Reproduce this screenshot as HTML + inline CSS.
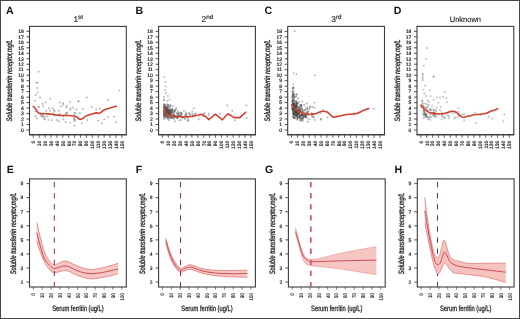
<!DOCTYPE html>
<html><head><meta charset="utf-8"><style>
html,body{margin:0;padding:0;background:#fff;}
svg{display:block;will-change:transform;text-rendering:geometricPrecision;}
</style></head><body>
<svg width="520" height="319" viewBox="0 0 520 319">
<rect x="0.5" y="0.5" width="519" height="318" fill="#fff" stroke="#484848" stroke-width="1"/>
<text x="5.9" y="13.7" font-family="Liberation Sans, sans-serif" font-weight="bold" font-size="10.6" fill="#111">A</text>
<text x="6.8" y="173.3" font-family="Liberation Sans, sans-serif" font-weight="bold" font-size="10.6" fill="#111">E</text>
<text x="78.2" y="21.7" font-family="Liberation Sans, sans-serif" font-size="8.4" fill="#222" stroke="#222" stroke-width="0.15" text-anchor="middle">1<tspan font-size="6.2" dy="-2.9">st</tspan></text>
<rect x="29.5" y="26.4" width="96.80" height="108.20" fill="none" stroke="#3c3c3c" stroke-width="1.1"/>
<line x1="29.0" y1="134.9" x2="126.8" y2="134.9" stroke="#3c3c3c" stroke-width="1.0"/>
<line x1="26.5" y1="130.00" x2="29.5" y2="130.00" stroke="#3c3c3c" stroke-width="0.9"/>
<text x="23.80" y="131.75" font-family="Liberation Sans, sans-serif" font-size="5.0" fill="#222" stroke="#222" stroke-width="0.2" text-anchor="end">0</text>
<line x1="26.5" y1="124.52" x2="29.5" y2="124.52" stroke="#3c3c3c" stroke-width="0.9"/>
<text x="23.80" y="126.27" font-family="Liberation Sans, sans-serif" font-size="5.0" fill="#222" stroke="#222" stroke-width="0.2" text-anchor="end">1</text>
<line x1="26.5" y1="119.04" x2="29.5" y2="119.04" stroke="#3c3c3c" stroke-width="0.9"/>
<text x="23.80" y="120.79" font-family="Liberation Sans, sans-serif" font-size="5.0" fill="#222" stroke="#222" stroke-width="0.2" text-anchor="end">2</text>
<line x1="26.5" y1="113.56" x2="29.5" y2="113.56" stroke="#3c3c3c" stroke-width="0.9"/>
<text x="23.80" y="115.31" font-family="Liberation Sans, sans-serif" font-size="5.0" fill="#222" stroke="#222" stroke-width="0.2" text-anchor="end">3</text>
<line x1="26.5" y1="108.08" x2="29.5" y2="108.08" stroke="#3c3c3c" stroke-width="0.9"/>
<text x="23.80" y="109.83" font-family="Liberation Sans, sans-serif" font-size="5.0" fill="#222" stroke="#222" stroke-width="0.2" text-anchor="end">4</text>
<line x1="26.5" y1="102.60" x2="29.5" y2="102.60" stroke="#3c3c3c" stroke-width="0.9"/>
<text x="23.80" y="104.35" font-family="Liberation Sans, sans-serif" font-size="5.0" fill="#222" stroke="#222" stroke-width="0.2" text-anchor="end">5</text>
<line x1="26.5" y1="97.12" x2="29.5" y2="97.12" stroke="#3c3c3c" stroke-width="0.9"/>
<text x="23.80" y="98.87" font-family="Liberation Sans, sans-serif" font-size="5.0" fill="#222" stroke="#222" stroke-width="0.2" text-anchor="end">6</text>
<line x1="26.5" y1="91.64" x2="29.5" y2="91.64" stroke="#3c3c3c" stroke-width="0.9"/>
<text x="23.80" y="93.39" font-family="Liberation Sans, sans-serif" font-size="5.0" fill="#222" stroke="#222" stroke-width="0.2" text-anchor="end">7</text>
<line x1="26.5" y1="86.16" x2="29.5" y2="86.16" stroke="#3c3c3c" stroke-width="0.9"/>
<text x="23.80" y="87.91" font-family="Liberation Sans, sans-serif" font-size="5.0" fill="#222" stroke="#222" stroke-width="0.2" text-anchor="end">8</text>
<line x1="26.5" y1="80.68" x2="29.5" y2="80.68" stroke="#3c3c3c" stroke-width="0.9"/>
<text x="23.80" y="82.43" font-family="Liberation Sans, sans-serif" font-size="5.0" fill="#222" stroke="#222" stroke-width="0.2" text-anchor="end">9</text>
<line x1="26.5" y1="75.20" x2="29.5" y2="75.20" stroke="#3c3c3c" stroke-width="0.9"/>
<text x="23.80" y="76.95" font-family="Liberation Sans, sans-serif" font-size="5.0" fill="#222" stroke="#222" stroke-width="0.2" text-anchor="end">10</text>
<line x1="26.5" y1="69.72" x2="29.5" y2="69.72" stroke="#3c3c3c" stroke-width="0.9"/>
<text x="23.80" y="71.47" font-family="Liberation Sans, sans-serif" font-size="5.0" fill="#222" stroke="#222" stroke-width="0.2" text-anchor="end">11</text>
<line x1="26.5" y1="64.24" x2="29.5" y2="64.24" stroke="#3c3c3c" stroke-width="0.9"/>
<text x="23.80" y="65.99" font-family="Liberation Sans, sans-serif" font-size="5.0" fill="#222" stroke="#222" stroke-width="0.2" text-anchor="end">12</text>
<line x1="26.5" y1="58.76" x2="29.5" y2="58.76" stroke="#3c3c3c" stroke-width="0.9"/>
<text x="23.80" y="60.51" font-family="Liberation Sans, sans-serif" font-size="5.0" fill="#222" stroke="#222" stroke-width="0.2" text-anchor="end">13</text>
<line x1="26.5" y1="53.28" x2="29.5" y2="53.28" stroke="#3c3c3c" stroke-width="0.9"/>
<text x="23.80" y="55.03" font-family="Liberation Sans, sans-serif" font-size="5.0" fill="#222" stroke="#222" stroke-width="0.2" text-anchor="end">14</text>
<line x1="26.5" y1="47.80" x2="29.5" y2="47.80" stroke="#3c3c3c" stroke-width="0.9"/>
<text x="23.80" y="49.55" font-family="Liberation Sans, sans-serif" font-size="5.0" fill="#222" stroke="#222" stroke-width="0.2" text-anchor="end">15</text>
<line x1="26.5" y1="42.32" x2="29.5" y2="42.32" stroke="#3c3c3c" stroke-width="0.9"/>
<text x="23.80" y="44.07" font-family="Liberation Sans, sans-serif" font-size="5.0" fill="#222" stroke="#222" stroke-width="0.2" text-anchor="end">16</text>
<line x1="26.5" y1="36.84" x2="29.5" y2="36.84" stroke="#3c3c3c" stroke-width="0.9"/>
<text x="23.80" y="38.59" font-family="Liberation Sans, sans-serif" font-size="5.0" fill="#222" stroke="#222" stroke-width="0.2" text-anchor="end">17</text>
<line x1="26.5" y1="31.36" x2="29.5" y2="31.36" stroke="#3c3c3c" stroke-width="0.9"/>
<text x="23.80" y="33.11" font-family="Liberation Sans, sans-serif" font-size="5.0" fill="#222" stroke="#222" stroke-width="0.2" text-anchor="end">18</text>
<line x1="33.30" y1="134.6" x2="33.30" y2="137.79999999999998" stroke="#3c3c3c" stroke-width="0.8"/>
<text transform="translate(35.10,140.6) rotate(-90)" font-family="Liberation Sans, sans-serif" font-size="5.0" fill="#222" stroke="#222" stroke-width="0.18" text-anchor="end">0</text>
<line x1="39.20" y1="134.6" x2="39.20" y2="137.79999999999998" stroke="#3c3c3c" stroke-width="0.8"/>
<text transform="translate(41.00,140.6) rotate(-90)" font-family="Liberation Sans, sans-serif" font-size="5.0" fill="#222" stroke="#222" stroke-width="0.18" text-anchor="end">10</text>
<line x1="45.10" y1="134.6" x2="45.10" y2="137.79999999999998" stroke="#3c3c3c" stroke-width="0.8"/>
<text transform="translate(46.90,140.6) rotate(-90)" font-family="Liberation Sans, sans-serif" font-size="5.0" fill="#222" stroke="#222" stroke-width="0.18" text-anchor="end">20</text>
<line x1="51.00" y1="134.6" x2="51.00" y2="137.79999999999998" stroke="#3c3c3c" stroke-width="0.8"/>
<text transform="translate(52.80,140.6) rotate(-90)" font-family="Liberation Sans, sans-serif" font-size="5.0" fill="#222" stroke="#222" stroke-width="0.18" text-anchor="end">30</text>
<line x1="56.90" y1="134.6" x2="56.90" y2="137.79999999999998" stroke="#3c3c3c" stroke-width="0.8"/>
<text transform="translate(58.70,140.6) rotate(-90)" font-family="Liberation Sans, sans-serif" font-size="5.0" fill="#222" stroke="#222" stroke-width="0.18" text-anchor="end">40</text>
<line x1="62.80" y1="134.6" x2="62.80" y2="137.79999999999998" stroke="#3c3c3c" stroke-width="0.8"/>
<text transform="translate(64.60,140.6) rotate(-90)" font-family="Liberation Sans, sans-serif" font-size="5.0" fill="#222" stroke="#222" stroke-width="0.18" text-anchor="end">50</text>
<line x1="68.70" y1="134.6" x2="68.70" y2="137.79999999999998" stroke="#3c3c3c" stroke-width="0.8"/>
<text transform="translate(70.50,140.6) rotate(-90)" font-family="Liberation Sans, sans-serif" font-size="5.0" fill="#222" stroke="#222" stroke-width="0.18" text-anchor="end">60</text>
<line x1="74.60" y1="134.6" x2="74.60" y2="137.79999999999998" stroke="#3c3c3c" stroke-width="0.8"/>
<text transform="translate(76.40,140.6) rotate(-90)" font-family="Liberation Sans, sans-serif" font-size="5.0" fill="#222" stroke="#222" stroke-width="0.18" text-anchor="end">70</text>
<line x1="80.50" y1="134.6" x2="80.50" y2="137.79999999999998" stroke="#3c3c3c" stroke-width="0.8"/>
<text transform="translate(82.30,140.6) rotate(-90)" font-family="Liberation Sans, sans-serif" font-size="5.0" fill="#222" stroke="#222" stroke-width="0.18" text-anchor="end">80</text>
<line x1="86.40" y1="134.6" x2="86.40" y2="137.79999999999998" stroke="#3c3c3c" stroke-width="0.8"/>
<text transform="translate(88.20,140.6) rotate(-90)" font-family="Liberation Sans, sans-serif" font-size="5.0" fill="#222" stroke="#222" stroke-width="0.18" text-anchor="end">90</text>
<line x1="92.30" y1="134.6" x2="92.30" y2="137.79999999999998" stroke="#3c3c3c" stroke-width="0.8"/>
<text transform="translate(94.10,140.6) rotate(-90)" font-family="Liberation Sans, sans-serif" font-size="5.0" fill="#222" stroke="#222" stroke-width="0.18" text-anchor="end">100</text>
<line x1="98.20" y1="134.6" x2="98.20" y2="137.79999999999998" stroke="#3c3c3c" stroke-width="0.8"/>
<text transform="translate(100.00,140.6) rotate(-90)" font-family="Liberation Sans, sans-serif" font-size="5.0" fill="#222" stroke="#222" stroke-width="0.18" text-anchor="end">110</text>
<line x1="104.10" y1="134.6" x2="104.10" y2="137.79999999999998" stroke="#3c3c3c" stroke-width="0.8"/>
<text transform="translate(105.90,140.6) rotate(-90)" font-family="Liberation Sans, sans-serif" font-size="5.0" fill="#222" stroke="#222" stroke-width="0.18" text-anchor="end">120</text>
<line x1="110.00" y1="134.6" x2="110.00" y2="137.79999999999998" stroke="#3c3c3c" stroke-width="0.8"/>
<text transform="translate(111.80,140.6) rotate(-90)" font-family="Liberation Sans, sans-serif" font-size="5.0" fill="#222" stroke="#222" stroke-width="0.18" text-anchor="end">130</text>
<line x1="115.90" y1="134.6" x2="115.90" y2="137.79999999999998" stroke="#3c3c3c" stroke-width="0.8"/>
<text transform="translate(117.70,140.6) rotate(-90)" font-family="Liberation Sans, sans-serif" font-size="5.0" fill="#222" stroke="#222" stroke-width="0.18" text-anchor="end">140</text>
<line x1="121.80" y1="134.6" x2="121.80" y2="137.79999999999998" stroke="#3c3c3c" stroke-width="0.8"/>
<text transform="translate(123.60,140.6) rotate(-90)" font-family="Liberation Sans, sans-serif" font-size="5.0" fill="#222" stroke="#222" stroke-width="0.18" text-anchor="end">150</text>
<text transform="translate(12.00,80.5) rotate(-90)" font-family="Liberation Sans, sans-serif" font-size="7.9" font-style="italic" fill="#222" stroke="#222" stroke-width="0.3" text-anchor="middle" textLength="82" lengthAdjust="spacingAndGlyphs">Soluble transferrin receptor,mg/L</text>
<rect x="29.5" y="178.9" width="96.80" height="108.10" fill="none" stroke="#3c3c3c" stroke-width="1.1"/>
<line x1="26.5" y1="282.09" x2="29.5" y2="282.09" stroke="#3c3c3c" stroke-width="0.9"/>
<text x="23.40" y="283.89" font-family="Liberation Sans, sans-serif" font-size="5.0" fill="#222" stroke="#222" stroke-width="0.18" text-anchor="end">2</text>
<line x1="26.5" y1="268.02" x2="29.5" y2="268.02" stroke="#3c3c3c" stroke-width="0.9"/>
<text x="23.40" y="269.82" font-family="Liberation Sans, sans-serif" font-size="5.0" fill="#222" stroke="#222" stroke-width="0.18" text-anchor="end">3</text>
<line x1="26.5" y1="253.95" x2="29.5" y2="253.95" stroke="#3c3c3c" stroke-width="0.9"/>
<text x="23.40" y="255.75" font-family="Liberation Sans, sans-serif" font-size="5.0" fill="#222" stroke="#222" stroke-width="0.18" text-anchor="end">4</text>
<line x1="26.5" y1="239.88" x2="29.5" y2="239.88" stroke="#3c3c3c" stroke-width="0.9"/>
<text x="23.40" y="241.68" font-family="Liberation Sans, sans-serif" font-size="5.0" fill="#222" stroke="#222" stroke-width="0.18" text-anchor="end">5</text>
<line x1="26.5" y1="225.81" x2="29.5" y2="225.81" stroke="#3c3c3c" stroke-width="0.9"/>
<text x="23.40" y="227.61" font-family="Liberation Sans, sans-serif" font-size="5.0" fill="#222" stroke="#222" stroke-width="0.18" text-anchor="end">6</text>
<line x1="26.5" y1="211.74" x2="29.5" y2="211.74" stroke="#3c3c3c" stroke-width="0.9"/>
<text x="23.40" y="213.54" font-family="Liberation Sans, sans-serif" font-size="5.0" fill="#222" stroke="#222" stroke-width="0.18" text-anchor="end">7</text>
<line x1="26.5" y1="197.67" x2="29.5" y2="197.67" stroke="#3c3c3c" stroke-width="0.9"/>
<text x="23.40" y="199.47" font-family="Liberation Sans, sans-serif" font-size="5.0" fill="#222" stroke="#222" stroke-width="0.18" text-anchor="end">8</text>
<line x1="26.5" y1="183.60" x2="29.5" y2="183.60" stroke="#3c3c3c" stroke-width="0.9"/>
<text x="23.40" y="185.40" font-family="Liberation Sans, sans-serif" font-size="5.0" fill="#222" stroke="#222" stroke-width="0.18" text-anchor="end">9</text>
<line x1="33.40" y1="287.0" x2="33.40" y2="289.6" stroke="#3c3c3c" stroke-width="0.7"/>
<text transform="translate(35.30,293.2) rotate(-90)" font-family="Liberation Sans, sans-serif" font-size="5.3" fill="#222" stroke="#222" stroke-width="0.15" text-anchor="end" textLength="2.4" lengthAdjust="spacingAndGlyphs">0</text>
<line x1="42.24" y1="287.0" x2="42.24" y2="289.6" stroke="#3c3c3c" stroke-width="0.7"/>
<text transform="translate(44.14,293.2) rotate(-90)" font-family="Liberation Sans, sans-serif" font-size="5.3" fill="#222" stroke="#222" stroke-width="0.15" text-anchor="end" textLength="4.8" lengthAdjust="spacingAndGlyphs">10</text>
<line x1="51.08" y1="287.0" x2="51.08" y2="289.6" stroke="#3c3c3c" stroke-width="0.7"/>
<text transform="translate(52.98,293.2) rotate(-90)" font-family="Liberation Sans, sans-serif" font-size="5.3" fill="#222" stroke="#222" stroke-width="0.15" text-anchor="end" textLength="4.8" lengthAdjust="spacingAndGlyphs">20</text>
<line x1="59.92" y1="287.0" x2="59.92" y2="289.6" stroke="#3c3c3c" stroke-width="0.7"/>
<text transform="translate(61.82,293.2) rotate(-90)" font-family="Liberation Sans, sans-serif" font-size="5.3" fill="#222" stroke="#222" stroke-width="0.15" text-anchor="end" textLength="4.8" lengthAdjust="spacingAndGlyphs">30</text>
<line x1="68.76" y1="287.0" x2="68.76" y2="289.6" stroke="#3c3c3c" stroke-width="0.7"/>
<text transform="translate(70.66,293.2) rotate(-90)" font-family="Liberation Sans, sans-serif" font-size="5.3" fill="#222" stroke="#222" stroke-width="0.15" text-anchor="end" textLength="4.8" lengthAdjust="spacingAndGlyphs">40</text>
<line x1="77.60" y1="287.0" x2="77.60" y2="289.6" stroke="#3c3c3c" stroke-width="0.7"/>
<text transform="translate(79.50,293.2) rotate(-90)" font-family="Liberation Sans, sans-serif" font-size="5.3" fill="#222" stroke="#222" stroke-width="0.15" text-anchor="end" textLength="4.8" lengthAdjust="spacingAndGlyphs">50</text>
<line x1="86.44" y1="287.0" x2="86.44" y2="289.6" stroke="#3c3c3c" stroke-width="0.7"/>
<text transform="translate(88.34,293.2) rotate(-90)" font-family="Liberation Sans, sans-serif" font-size="5.3" fill="#222" stroke="#222" stroke-width="0.15" text-anchor="end" textLength="4.8" lengthAdjust="spacingAndGlyphs">60</text>
<line x1="95.28" y1="287.0" x2="95.28" y2="289.6" stroke="#3c3c3c" stroke-width="0.7"/>
<text transform="translate(97.18,293.2) rotate(-90)" font-family="Liberation Sans, sans-serif" font-size="5.3" fill="#222" stroke="#222" stroke-width="0.15" text-anchor="end" textLength="4.8" lengthAdjust="spacingAndGlyphs">70</text>
<line x1="104.12" y1="287.0" x2="104.12" y2="289.6" stroke="#3c3c3c" stroke-width="0.7"/>
<text transform="translate(106.02,293.2) rotate(-90)" font-family="Liberation Sans, sans-serif" font-size="5.3" fill="#222" stroke="#222" stroke-width="0.15" text-anchor="end" textLength="4.8" lengthAdjust="spacingAndGlyphs">80</text>
<line x1="112.96" y1="287.0" x2="112.96" y2="289.6" stroke="#3c3c3c" stroke-width="0.7"/>
<text transform="translate(114.86,293.2) rotate(-90)" font-family="Liberation Sans, sans-serif" font-size="5.3" fill="#222" stroke="#222" stroke-width="0.15" text-anchor="end" textLength="4.8" lengthAdjust="spacingAndGlyphs">90</text>
<line x1="121.80" y1="287.0" x2="121.80" y2="289.6" stroke="#3c3c3c" stroke-width="0.7"/>
<text transform="translate(123.70,293.2) rotate(-90)" font-family="Liberation Sans, sans-serif" font-size="5.3" fill="#222" stroke="#222" stroke-width="0.15" text-anchor="end" textLength="7.2" lengthAdjust="spacingAndGlyphs">100</text>
<text transform="translate(15.80,233.4) rotate(-90)" font-family="Liberation Sans, sans-serif" font-size="7.9" font-style="italic" fill="#222" stroke="#222" stroke-width="0.3" text-anchor="middle" textLength="81.5" lengthAdjust="spacingAndGlyphs">Soluble transferrin receptor,mg/L</text>
<text x="77.90" y="311.3" font-family="Liberation Sans, sans-serif" font-size="7.8" fill="#222" stroke="#222" stroke-width="0.28" text-anchor="middle" textLength="51.4" lengthAdjust="spacingAndGlyphs">Serum ferritin (ug/L)</text>
<text x="135.6" y="13.7" font-family="Liberation Sans, sans-serif" font-weight="bold" font-size="10.6" fill="#111">B</text>
<text x="135.8" y="173.3" font-family="Liberation Sans, sans-serif" font-weight="bold" font-size="10.6" fill="#111">F</text>
<text x="207.3" y="21.7" font-family="Liberation Sans, sans-serif" font-size="8.4" fill="#222" stroke="#222" stroke-width="0.15" text-anchor="middle">2<tspan font-size="6.2" dy="-2.9">nd</tspan></text>
<rect x="158.6" y="26.4" width="96.80" height="108.20" fill="none" stroke="#3c3c3c" stroke-width="1.1"/>
<line x1="158.1" y1="134.9" x2="255.89999999999998" y2="134.9" stroke="#3c3c3c" stroke-width="1.0"/>
<line x1="155.6" y1="130.00" x2="158.6" y2="130.00" stroke="#3c3c3c" stroke-width="0.9"/>
<text x="152.90" y="131.75" font-family="Liberation Sans, sans-serif" font-size="5.0" fill="#222" stroke="#222" stroke-width="0.2" text-anchor="end">0</text>
<line x1="155.6" y1="124.52" x2="158.6" y2="124.52" stroke="#3c3c3c" stroke-width="0.9"/>
<text x="152.90" y="126.27" font-family="Liberation Sans, sans-serif" font-size="5.0" fill="#222" stroke="#222" stroke-width="0.2" text-anchor="end">1</text>
<line x1="155.6" y1="119.04" x2="158.6" y2="119.04" stroke="#3c3c3c" stroke-width="0.9"/>
<text x="152.90" y="120.79" font-family="Liberation Sans, sans-serif" font-size="5.0" fill="#222" stroke="#222" stroke-width="0.2" text-anchor="end">2</text>
<line x1="155.6" y1="113.56" x2="158.6" y2="113.56" stroke="#3c3c3c" stroke-width="0.9"/>
<text x="152.90" y="115.31" font-family="Liberation Sans, sans-serif" font-size="5.0" fill="#222" stroke="#222" stroke-width="0.2" text-anchor="end">3</text>
<line x1="155.6" y1="108.08" x2="158.6" y2="108.08" stroke="#3c3c3c" stroke-width="0.9"/>
<text x="152.90" y="109.83" font-family="Liberation Sans, sans-serif" font-size="5.0" fill="#222" stroke="#222" stroke-width="0.2" text-anchor="end">4</text>
<line x1="155.6" y1="102.60" x2="158.6" y2="102.60" stroke="#3c3c3c" stroke-width="0.9"/>
<text x="152.90" y="104.35" font-family="Liberation Sans, sans-serif" font-size="5.0" fill="#222" stroke="#222" stroke-width="0.2" text-anchor="end">5</text>
<line x1="155.6" y1="97.12" x2="158.6" y2="97.12" stroke="#3c3c3c" stroke-width="0.9"/>
<text x="152.90" y="98.87" font-family="Liberation Sans, sans-serif" font-size="5.0" fill="#222" stroke="#222" stroke-width="0.2" text-anchor="end">6</text>
<line x1="155.6" y1="91.64" x2="158.6" y2="91.64" stroke="#3c3c3c" stroke-width="0.9"/>
<text x="152.90" y="93.39" font-family="Liberation Sans, sans-serif" font-size="5.0" fill="#222" stroke="#222" stroke-width="0.2" text-anchor="end">7</text>
<line x1="155.6" y1="86.16" x2="158.6" y2="86.16" stroke="#3c3c3c" stroke-width="0.9"/>
<text x="152.90" y="87.91" font-family="Liberation Sans, sans-serif" font-size="5.0" fill="#222" stroke="#222" stroke-width="0.2" text-anchor="end">8</text>
<line x1="155.6" y1="80.68" x2="158.6" y2="80.68" stroke="#3c3c3c" stroke-width="0.9"/>
<text x="152.90" y="82.43" font-family="Liberation Sans, sans-serif" font-size="5.0" fill="#222" stroke="#222" stroke-width="0.2" text-anchor="end">9</text>
<line x1="155.6" y1="75.20" x2="158.6" y2="75.20" stroke="#3c3c3c" stroke-width="0.9"/>
<text x="152.90" y="76.95" font-family="Liberation Sans, sans-serif" font-size="5.0" fill="#222" stroke="#222" stroke-width="0.2" text-anchor="end">10</text>
<line x1="155.6" y1="69.72" x2="158.6" y2="69.72" stroke="#3c3c3c" stroke-width="0.9"/>
<text x="152.90" y="71.47" font-family="Liberation Sans, sans-serif" font-size="5.0" fill="#222" stroke="#222" stroke-width="0.2" text-anchor="end">11</text>
<line x1="155.6" y1="64.24" x2="158.6" y2="64.24" stroke="#3c3c3c" stroke-width="0.9"/>
<text x="152.90" y="65.99" font-family="Liberation Sans, sans-serif" font-size="5.0" fill="#222" stroke="#222" stroke-width="0.2" text-anchor="end">12</text>
<line x1="155.6" y1="58.76" x2="158.6" y2="58.76" stroke="#3c3c3c" stroke-width="0.9"/>
<text x="152.90" y="60.51" font-family="Liberation Sans, sans-serif" font-size="5.0" fill="#222" stroke="#222" stroke-width="0.2" text-anchor="end">13</text>
<line x1="155.6" y1="53.28" x2="158.6" y2="53.28" stroke="#3c3c3c" stroke-width="0.9"/>
<text x="152.90" y="55.03" font-family="Liberation Sans, sans-serif" font-size="5.0" fill="#222" stroke="#222" stroke-width="0.2" text-anchor="end">14</text>
<line x1="155.6" y1="47.80" x2="158.6" y2="47.80" stroke="#3c3c3c" stroke-width="0.9"/>
<text x="152.90" y="49.55" font-family="Liberation Sans, sans-serif" font-size="5.0" fill="#222" stroke="#222" stroke-width="0.2" text-anchor="end">15</text>
<line x1="155.6" y1="42.32" x2="158.6" y2="42.32" stroke="#3c3c3c" stroke-width="0.9"/>
<text x="152.90" y="44.07" font-family="Liberation Sans, sans-serif" font-size="5.0" fill="#222" stroke="#222" stroke-width="0.2" text-anchor="end">16</text>
<line x1="155.6" y1="36.84" x2="158.6" y2="36.84" stroke="#3c3c3c" stroke-width="0.9"/>
<text x="152.90" y="38.59" font-family="Liberation Sans, sans-serif" font-size="5.0" fill="#222" stroke="#222" stroke-width="0.2" text-anchor="end">17</text>
<line x1="155.6" y1="31.36" x2="158.6" y2="31.36" stroke="#3c3c3c" stroke-width="0.9"/>
<text x="152.90" y="33.11" font-family="Liberation Sans, sans-serif" font-size="5.0" fill="#222" stroke="#222" stroke-width="0.2" text-anchor="end">18</text>
<line x1="162.40" y1="134.6" x2="162.40" y2="137.79999999999998" stroke="#3c3c3c" stroke-width="0.8"/>
<text transform="translate(164.20,140.6) rotate(-90)" font-family="Liberation Sans, sans-serif" font-size="5.0" fill="#222" stroke="#222" stroke-width="0.18" text-anchor="end">0</text>
<line x1="168.30" y1="134.6" x2="168.30" y2="137.79999999999998" stroke="#3c3c3c" stroke-width="0.8"/>
<text transform="translate(170.10,140.6) rotate(-90)" font-family="Liberation Sans, sans-serif" font-size="5.0" fill="#222" stroke="#222" stroke-width="0.18" text-anchor="end">10</text>
<line x1="174.20" y1="134.6" x2="174.20" y2="137.79999999999998" stroke="#3c3c3c" stroke-width="0.8"/>
<text transform="translate(176.00,140.6) rotate(-90)" font-family="Liberation Sans, sans-serif" font-size="5.0" fill="#222" stroke="#222" stroke-width="0.18" text-anchor="end">20</text>
<line x1="180.10" y1="134.6" x2="180.10" y2="137.79999999999998" stroke="#3c3c3c" stroke-width="0.8"/>
<text transform="translate(181.90,140.6) rotate(-90)" font-family="Liberation Sans, sans-serif" font-size="5.0" fill="#222" stroke="#222" stroke-width="0.18" text-anchor="end">30</text>
<line x1="186.00" y1="134.6" x2="186.00" y2="137.79999999999998" stroke="#3c3c3c" stroke-width="0.8"/>
<text transform="translate(187.80,140.6) rotate(-90)" font-family="Liberation Sans, sans-serif" font-size="5.0" fill="#222" stroke="#222" stroke-width="0.18" text-anchor="end">40</text>
<line x1="191.90" y1="134.6" x2="191.90" y2="137.79999999999998" stroke="#3c3c3c" stroke-width="0.8"/>
<text transform="translate(193.70,140.6) rotate(-90)" font-family="Liberation Sans, sans-serif" font-size="5.0" fill="#222" stroke="#222" stroke-width="0.18" text-anchor="end">50</text>
<line x1="197.80" y1="134.6" x2="197.80" y2="137.79999999999998" stroke="#3c3c3c" stroke-width="0.8"/>
<text transform="translate(199.60,140.6) rotate(-90)" font-family="Liberation Sans, sans-serif" font-size="5.0" fill="#222" stroke="#222" stroke-width="0.18" text-anchor="end">60</text>
<line x1="203.70" y1="134.6" x2="203.70" y2="137.79999999999998" stroke="#3c3c3c" stroke-width="0.8"/>
<text transform="translate(205.50,140.6) rotate(-90)" font-family="Liberation Sans, sans-serif" font-size="5.0" fill="#222" stroke="#222" stroke-width="0.18" text-anchor="end">70</text>
<line x1="209.60" y1="134.6" x2="209.60" y2="137.79999999999998" stroke="#3c3c3c" stroke-width="0.8"/>
<text transform="translate(211.40,140.6) rotate(-90)" font-family="Liberation Sans, sans-serif" font-size="5.0" fill="#222" stroke="#222" stroke-width="0.18" text-anchor="end">80</text>
<line x1="215.50" y1="134.6" x2="215.50" y2="137.79999999999998" stroke="#3c3c3c" stroke-width="0.8"/>
<text transform="translate(217.30,140.6) rotate(-90)" font-family="Liberation Sans, sans-serif" font-size="5.0" fill="#222" stroke="#222" stroke-width="0.18" text-anchor="end">90</text>
<line x1="221.40" y1="134.6" x2="221.40" y2="137.79999999999998" stroke="#3c3c3c" stroke-width="0.8"/>
<text transform="translate(223.20,140.6) rotate(-90)" font-family="Liberation Sans, sans-serif" font-size="5.0" fill="#222" stroke="#222" stroke-width="0.18" text-anchor="end">100</text>
<line x1="227.30" y1="134.6" x2="227.30" y2="137.79999999999998" stroke="#3c3c3c" stroke-width="0.8"/>
<text transform="translate(229.10,140.6) rotate(-90)" font-family="Liberation Sans, sans-serif" font-size="5.0" fill="#222" stroke="#222" stroke-width="0.18" text-anchor="end">110</text>
<line x1="233.20" y1="134.6" x2="233.20" y2="137.79999999999998" stroke="#3c3c3c" stroke-width="0.8"/>
<text transform="translate(235.00,140.6) rotate(-90)" font-family="Liberation Sans, sans-serif" font-size="5.0" fill="#222" stroke="#222" stroke-width="0.18" text-anchor="end">120</text>
<line x1="239.10" y1="134.6" x2="239.10" y2="137.79999999999998" stroke="#3c3c3c" stroke-width="0.8"/>
<text transform="translate(240.90,140.6) rotate(-90)" font-family="Liberation Sans, sans-serif" font-size="5.0" fill="#222" stroke="#222" stroke-width="0.18" text-anchor="end">130</text>
<line x1="245.00" y1="134.6" x2="245.00" y2="137.79999999999998" stroke="#3c3c3c" stroke-width="0.8"/>
<text transform="translate(246.80,140.6) rotate(-90)" font-family="Liberation Sans, sans-serif" font-size="5.0" fill="#222" stroke="#222" stroke-width="0.18" text-anchor="end">140</text>
<line x1="250.90" y1="134.6" x2="250.90" y2="137.79999999999998" stroke="#3c3c3c" stroke-width="0.8"/>
<text transform="translate(252.70,140.6) rotate(-90)" font-family="Liberation Sans, sans-serif" font-size="5.0" fill="#222" stroke="#222" stroke-width="0.18" text-anchor="end">150</text>
<text transform="translate(141.10,80.5) rotate(-90)" font-family="Liberation Sans, sans-serif" font-size="7.9" font-style="italic" fill="#222" stroke="#222" stroke-width="0.3" text-anchor="middle" textLength="82" lengthAdjust="spacingAndGlyphs">Soluble transferrin receptor,mg/L</text>
<rect x="158.6" y="178.9" width="96.80" height="108.10" fill="none" stroke="#3c3c3c" stroke-width="1.1"/>
<line x1="155.6" y1="282.09" x2="158.6" y2="282.09" stroke="#3c3c3c" stroke-width="0.9"/>
<text x="152.50" y="283.89" font-family="Liberation Sans, sans-serif" font-size="5.0" fill="#222" stroke="#222" stroke-width="0.18" text-anchor="end">2</text>
<line x1="155.6" y1="268.02" x2="158.6" y2="268.02" stroke="#3c3c3c" stroke-width="0.9"/>
<text x="152.50" y="269.82" font-family="Liberation Sans, sans-serif" font-size="5.0" fill="#222" stroke="#222" stroke-width="0.18" text-anchor="end">3</text>
<line x1="155.6" y1="253.95" x2="158.6" y2="253.95" stroke="#3c3c3c" stroke-width="0.9"/>
<text x="152.50" y="255.75" font-family="Liberation Sans, sans-serif" font-size="5.0" fill="#222" stroke="#222" stroke-width="0.18" text-anchor="end">4</text>
<line x1="155.6" y1="239.88" x2="158.6" y2="239.88" stroke="#3c3c3c" stroke-width="0.9"/>
<text x="152.50" y="241.68" font-family="Liberation Sans, sans-serif" font-size="5.0" fill="#222" stroke="#222" stroke-width="0.18" text-anchor="end">5</text>
<line x1="155.6" y1="225.81" x2="158.6" y2="225.81" stroke="#3c3c3c" stroke-width="0.9"/>
<text x="152.50" y="227.61" font-family="Liberation Sans, sans-serif" font-size="5.0" fill="#222" stroke="#222" stroke-width="0.18" text-anchor="end">6</text>
<line x1="155.6" y1="211.74" x2="158.6" y2="211.74" stroke="#3c3c3c" stroke-width="0.9"/>
<text x="152.50" y="213.54" font-family="Liberation Sans, sans-serif" font-size="5.0" fill="#222" stroke="#222" stroke-width="0.18" text-anchor="end">7</text>
<line x1="155.6" y1="197.67" x2="158.6" y2="197.67" stroke="#3c3c3c" stroke-width="0.9"/>
<text x="152.50" y="199.47" font-family="Liberation Sans, sans-serif" font-size="5.0" fill="#222" stroke="#222" stroke-width="0.18" text-anchor="end">8</text>
<line x1="155.6" y1="183.60" x2="158.6" y2="183.60" stroke="#3c3c3c" stroke-width="0.9"/>
<text x="152.50" y="185.40" font-family="Liberation Sans, sans-serif" font-size="5.0" fill="#222" stroke="#222" stroke-width="0.18" text-anchor="end">9</text>
<line x1="162.50" y1="287.0" x2="162.50" y2="289.6" stroke="#3c3c3c" stroke-width="0.7"/>
<text transform="translate(164.40,293.2) rotate(-90)" font-family="Liberation Sans, sans-serif" font-size="5.3" fill="#222" stroke="#222" stroke-width="0.15" text-anchor="end" textLength="2.4" lengthAdjust="spacingAndGlyphs">0</text>
<line x1="171.34" y1="287.0" x2="171.34" y2="289.6" stroke="#3c3c3c" stroke-width="0.7"/>
<text transform="translate(173.24,293.2) rotate(-90)" font-family="Liberation Sans, sans-serif" font-size="5.3" fill="#222" stroke="#222" stroke-width="0.15" text-anchor="end" textLength="4.8" lengthAdjust="spacingAndGlyphs">10</text>
<line x1="180.18" y1="287.0" x2="180.18" y2="289.6" stroke="#3c3c3c" stroke-width="0.7"/>
<text transform="translate(182.08,293.2) rotate(-90)" font-family="Liberation Sans, sans-serif" font-size="5.3" fill="#222" stroke="#222" stroke-width="0.15" text-anchor="end" textLength="4.8" lengthAdjust="spacingAndGlyphs">20</text>
<line x1="189.02" y1="287.0" x2="189.02" y2="289.6" stroke="#3c3c3c" stroke-width="0.7"/>
<text transform="translate(190.92,293.2) rotate(-90)" font-family="Liberation Sans, sans-serif" font-size="5.3" fill="#222" stroke="#222" stroke-width="0.15" text-anchor="end" textLength="4.8" lengthAdjust="spacingAndGlyphs">30</text>
<line x1="197.86" y1="287.0" x2="197.86" y2="289.6" stroke="#3c3c3c" stroke-width="0.7"/>
<text transform="translate(199.76,293.2) rotate(-90)" font-family="Liberation Sans, sans-serif" font-size="5.3" fill="#222" stroke="#222" stroke-width="0.15" text-anchor="end" textLength="4.8" lengthAdjust="spacingAndGlyphs">40</text>
<line x1="206.70" y1="287.0" x2="206.70" y2="289.6" stroke="#3c3c3c" stroke-width="0.7"/>
<text transform="translate(208.60,293.2) rotate(-90)" font-family="Liberation Sans, sans-serif" font-size="5.3" fill="#222" stroke="#222" stroke-width="0.15" text-anchor="end" textLength="4.8" lengthAdjust="spacingAndGlyphs">50</text>
<line x1="215.54" y1="287.0" x2="215.54" y2="289.6" stroke="#3c3c3c" stroke-width="0.7"/>
<text transform="translate(217.44,293.2) rotate(-90)" font-family="Liberation Sans, sans-serif" font-size="5.3" fill="#222" stroke="#222" stroke-width="0.15" text-anchor="end" textLength="4.8" lengthAdjust="spacingAndGlyphs">60</text>
<line x1="224.38" y1="287.0" x2="224.38" y2="289.6" stroke="#3c3c3c" stroke-width="0.7"/>
<text transform="translate(226.28,293.2) rotate(-90)" font-family="Liberation Sans, sans-serif" font-size="5.3" fill="#222" stroke="#222" stroke-width="0.15" text-anchor="end" textLength="4.8" lengthAdjust="spacingAndGlyphs">70</text>
<line x1="233.22" y1="287.0" x2="233.22" y2="289.6" stroke="#3c3c3c" stroke-width="0.7"/>
<text transform="translate(235.12,293.2) rotate(-90)" font-family="Liberation Sans, sans-serif" font-size="5.3" fill="#222" stroke="#222" stroke-width="0.15" text-anchor="end" textLength="4.8" lengthAdjust="spacingAndGlyphs">80</text>
<line x1="242.06" y1="287.0" x2="242.06" y2="289.6" stroke="#3c3c3c" stroke-width="0.7"/>
<text transform="translate(243.96,293.2) rotate(-90)" font-family="Liberation Sans, sans-serif" font-size="5.3" fill="#222" stroke="#222" stroke-width="0.15" text-anchor="end" textLength="4.8" lengthAdjust="spacingAndGlyphs">90</text>
<line x1="250.90" y1="287.0" x2="250.90" y2="289.6" stroke="#3c3c3c" stroke-width="0.7"/>
<text transform="translate(252.80,293.2) rotate(-90)" font-family="Liberation Sans, sans-serif" font-size="5.3" fill="#222" stroke="#222" stroke-width="0.15" text-anchor="end" textLength="7.2" lengthAdjust="spacingAndGlyphs">100</text>
<text transform="translate(144.90,233.4) rotate(-90)" font-family="Liberation Sans, sans-serif" font-size="7.9" font-style="italic" fill="#222" stroke="#222" stroke-width="0.3" text-anchor="middle" textLength="81.5" lengthAdjust="spacingAndGlyphs">Soluble transferrin receptor,mg/L</text>
<text x="207.00" y="311.3" font-family="Liberation Sans, sans-serif" font-size="7.8" fill="#222" stroke="#222" stroke-width="0.28" text-anchor="middle" textLength="51.4" lengthAdjust="spacingAndGlyphs">Serum ferritin (ug/L)</text>
<text x="264.6" y="13.7" font-family="Liberation Sans, sans-serif" font-weight="bold" font-size="10.6" fill="#111">C</text>
<text x="265.0" y="173.3" font-family="Liberation Sans, sans-serif" font-weight="bold" font-size="10.6" fill="#111">G</text>
<text x="336.40000000000003" y="21.7" font-family="Liberation Sans, sans-serif" font-size="8.4" fill="#222" stroke="#222" stroke-width="0.15" text-anchor="middle">3<tspan font-size="6.2" dy="-2.9">rd</tspan></text>
<rect x="287.7" y="26.4" width="96.80" height="108.20" fill="none" stroke="#3c3c3c" stroke-width="1.1"/>
<line x1="287.2" y1="134.9" x2="385.0" y2="134.9" stroke="#3c3c3c" stroke-width="1.0"/>
<line x1="284.7" y1="130.00" x2="287.7" y2="130.00" stroke="#3c3c3c" stroke-width="0.9"/>
<text x="282.00" y="131.75" font-family="Liberation Sans, sans-serif" font-size="5.0" fill="#222" stroke="#222" stroke-width="0.2" text-anchor="end">0</text>
<line x1="284.7" y1="124.52" x2="287.7" y2="124.52" stroke="#3c3c3c" stroke-width="0.9"/>
<text x="282.00" y="126.27" font-family="Liberation Sans, sans-serif" font-size="5.0" fill="#222" stroke="#222" stroke-width="0.2" text-anchor="end">1</text>
<line x1="284.7" y1="119.04" x2="287.7" y2="119.04" stroke="#3c3c3c" stroke-width="0.9"/>
<text x="282.00" y="120.79" font-family="Liberation Sans, sans-serif" font-size="5.0" fill="#222" stroke="#222" stroke-width="0.2" text-anchor="end">2</text>
<line x1="284.7" y1="113.56" x2="287.7" y2="113.56" stroke="#3c3c3c" stroke-width="0.9"/>
<text x="282.00" y="115.31" font-family="Liberation Sans, sans-serif" font-size="5.0" fill="#222" stroke="#222" stroke-width="0.2" text-anchor="end">3</text>
<line x1="284.7" y1="108.08" x2="287.7" y2="108.08" stroke="#3c3c3c" stroke-width="0.9"/>
<text x="282.00" y="109.83" font-family="Liberation Sans, sans-serif" font-size="5.0" fill="#222" stroke="#222" stroke-width="0.2" text-anchor="end">4</text>
<line x1="284.7" y1="102.60" x2="287.7" y2="102.60" stroke="#3c3c3c" stroke-width="0.9"/>
<text x="282.00" y="104.35" font-family="Liberation Sans, sans-serif" font-size="5.0" fill="#222" stroke="#222" stroke-width="0.2" text-anchor="end">5</text>
<line x1="284.7" y1="97.12" x2="287.7" y2="97.12" stroke="#3c3c3c" stroke-width="0.9"/>
<text x="282.00" y="98.87" font-family="Liberation Sans, sans-serif" font-size="5.0" fill="#222" stroke="#222" stroke-width="0.2" text-anchor="end">6</text>
<line x1="284.7" y1="91.64" x2="287.7" y2="91.64" stroke="#3c3c3c" stroke-width="0.9"/>
<text x="282.00" y="93.39" font-family="Liberation Sans, sans-serif" font-size="5.0" fill="#222" stroke="#222" stroke-width="0.2" text-anchor="end">7</text>
<line x1="284.7" y1="86.16" x2="287.7" y2="86.16" stroke="#3c3c3c" stroke-width="0.9"/>
<text x="282.00" y="87.91" font-family="Liberation Sans, sans-serif" font-size="5.0" fill="#222" stroke="#222" stroke-width="0.2" text-anchor="end">8</text>
<line x1="284.7" y1="80.68" x2="287.7" y2="80.68" stroke="#3c3c3c" stroke-width="0.9"/>
<text x="282.00" y="82.43" font-family="Liberation Sans, sans-serif" font-size="5.0" fill="#222" stroke="#222" stroke-width="0.2" text-anchor="end">9</text>
<line x1="284.7" y1="75.20" x2="287.7" y2="75.20" stroke="#3c3c3c" stroke-width="0.9"/>
<text x="282.00" y="76.95" font-family="Liberation Sans, sans-serif" font-size="5.0" fill="#222" stroke="#222" stroke-width="0.2" text-anchor="end">10</text>
<line x1="284.7" y1="69.72" x2="287.7" y2="69.72" stroke="#3c3c3c" stroke-width="0.9"/>
<text x="282.00" y="71.47" font-family="Liberation Sans, sans-serif" font-size="5.0" fill="#222" stroke="#222" stroke-width="0.2" text-anchor="end">11</text>
<line x1="284.7" y1="64.24" x2="287.7" y2="64.24" stroke="#3c3c3c" stroke-width="0.9"/>
<text x="282.00" y="65.99" font-family="Liberation Sans, sans-serif" font-size="5.0" fill="#222" stroke="#222" stroke-width="0.2" text-anchor="end">12</text>
<line x1="284.7" y1="58.76" x2="287.7" y2="58.76" stroke="#3c3c3c" stroke-width="0.9"/>
<text x="282.00" y="60.51" font-family="Liberation Sans, sans-serif" font-size="5.0" fill="#222" stroke="#222" stroke-width="0.2" text-anchor="end">13</text>
<line x1="284.7" y1="53.28" x2="287.7" y2="53.28" stroke="#3c3c3c" stroke-width="0.9"/>
<text x="282.00" y="55.03" font-family="Liberation Sans, sans-serif" font-size="5.0" fill="#222" stroke="#222" stroke-width="0.2" text-anchor="end">14</text>
<line x1="284.7" y1="47.80" x2="287.7" y2="47.80" stroke="#3c3c3c" stroke-width="0.9"/>
<text x="282.00" y="49.55" font-family="Liberation Sans, sans-serif" font-size="5.0" fill="#222" stroke="#222" stroke-width="0.2" text-anchor="end">15</text>
<line x1="284.7" y1="42.32" x2="287.7" y2="42.32" stroke="#3c3c3c" stroke-width="0.9"/>
<text x="282.00" y="44.07" font-family="Liberation Sans, sans-serif" font-size="5.0" fill="#222" stroke="#222" stroke-width="0.2" text-anchor="end">16</text>
<line x1="284.7" y1="36.84" x2="287.7" y2="36.84" stroke="#3c3c3c" stroke-width="0.9"/>
<text x="282.00" y="38.59" font-family="Liberation Sans, sans-serif" font-size="5.0" fill="#222" stroke="#222" stroke-width="0.2" text-anchor="end">17</text>
<line x1="284.7" y1="31.36" x2="287.7" y2="31.36" stroke="#3c3c3c" stroke-width="0.9"/>
<text x="282.00" y="33.11" font-family="Liberation Sans, sans-serif" font-size="5.0" fill="#222" stroke="#222" stroke-width="0.2" text-anchor="end">18</text>
<line x1="291.50" y1="134.6" x2="291.50" y2="137.79999999999998" stroke="#3c3c3c" stroke-width="0.8"/>
<text transform="translate(293.30,140.6) rotate(-90)" font-family="Liberation Sans, sans-serif" font-size="5.0" fill="#222" stroke="#222" stroke-width="0.18" text-anchor="end">0</text>
<line x1="297.40" y1="134.6" x2="297.40" y2="137.79999999999998" stroke="#3c3c3c" stroke-width="0.8"/>
<text transform="translate(299.20,140.6) rotate(-90)" font-family="Liberation Sans, sans-serif" font-size="5.0" fill="#222" stroke="#222" stroke-width="0.18" text-anchor="end">10</text>
<line x1="303.30" y1="134.6" x2="303.30" y2="137.79999999999998" stroke="#3c3c3c" stroke-width="0.8"/>
<text transform="translate(305.10,140.6) rotate(-90)" font-family="Liberation Sans, sans-serif" font-size="5.0" fill="#222" stroke="#222" stroke-width="0.18" text-anchor="end">20</text>
<line x1="309.20" y1="134.6" x2="309.20" y2="137.79999999999998" stroke="#3c3c3c" stroke-width="0.8"/>
<text transform="translate(311.00,140.6) rotate(-90)" font-family="Liberation Sans, sans-serif" font-size="5.0" fill="#222" stroke="#222" stroke-width="0.18" text-anchor="end">30</text>
<line x1="315.10" y1="134.6" x2="315.10" y2="137.79999999999998" stroke="#3c3c3c" stroke-width="0.8"/>
<text transform="translate(316.90,140.6) rotate(-90)" font-family="Liberation Sans, sans-serif" font-size="5.0" fill="#222" stroke="#222" stroke-width="0.18" text-anchor="end">40</text>
<line x1="321.00" y1="134.6" x2="321.00" y2="137.79999999999998" stroke="#3c3c3c" stroke-width="0.8"/>
<text transform="translate(322.80,140.6) rotate(-90)" font-family="Liberation Sans, sans-serif" font-size="5.0" fill="#222" stroke="#222" stroke-width="0.18" text-anchor="end">50</text>
<line x1="326.90" y1="134.6" x2="326.90" y2="137.79999999999998" stroke="#3c3c3c" stroke-width="0.8"/>
<text transform="translate(328.70,140.6) rotate(-90)" font-family="Liberation Sans, sans-serif" font-size="5.0" fill="#222" stroke="#222" stroke-width="0.18" text-anchor="end">60</text>
<line x1="332.80" y1="134.6" x2="332.80" y2="137.79999999999998" stroke="#3c3c3c" stroke-width="0.8"/>
<text transform="translate(334.60,140.6) rotate(-90)" font-family="Liberation Sans, sans-serif" font-size="5.0" fill="#222" stroke="#222" stroke-width="0.18" text-anchor="end">70</text>
<line x1="338.70" y1="134.6" x2="338.70" y2="137.79999999999998" stroke="#3c3c3c" stroke-width="0.8"/>
<text transform="translate(340.50,140.6) rotate(-90)" font-family="Liberation Sans, sans-serif" font-size="5.0" fill="#222" stroke="#222" stroke-width="0.18" text-anchor="end">80</text>
<line x1="344.60" y1="134.6" x2="344.60" y2="137.79999999999998" stroke="#3c3c3c" stroke-width="0.8"/>
<text transform="translate(346.40,140.6) rotate(-90)" font-family="Liberation Sans, sans-serif" font-size="5.0" fill="#222" stroke="#222" stroke-width="0.18" text-anchor="end">90</text>
<line x1="350.50" y1="134.6" x2="350.50" y2="137.79999999999998" stroke="#3c3c3c" stroke-width="0.8"/>
<text transform="translate(352.30,140.6) rotate(-90)" font-family="Liberation Sans, sans-serif" font-size="5.0" fill="#222" stroke="#222" stroke-width="0.18" text-anchor="end">100</text>
<line x1="356.40" y1="134.6" x2="356.40" y2="137.79999999999998" stroke="#3c3c3c" stroke-width="0.8"/>
<text transform="translate(358.20,140.6) rotate(-90)" font-family="Liberation Sans, sans-serif" font-size="5.0" fill="#222" stroke="#222" stroke-width="0.18" text-anchor="end">110</text>
<line x1="362.30" y1="134.6" x2="362.30" y2="137.79999999999998" stroke="#3c3c3c" stroke-width="0.8"/>
<text transform="translate(364.10,140.6) rotate(-90)" font-family="Liberation Sans, sans-serif" font-size="5.0" fill="#222" stroke="#222" stroke-width="0.18" text-anchor="end">120</text>
<line x1="368.20" y1="134.6" x2="368.20" y2="137.79999999999998" stroke="#3c3c3c" stroke-width="0.8"/>
<text transform="translate(370.00,140.6) rotate(-90)" font-family="Liberation Sans, sans-serif" font-size="5.0" fill="#222" stroke="#222" stroke-width="0.18" text-anchor="end">130</text>
<line x1="374.10" y1="134.6" x2="374.10" y2="137.79999999999998" stroke="#3c3c3c" stroke-width="0.8"/>
<text transform="translate(375.90,140.6) rotate(-90)" font-family="Liberation Sans, sans-serif" font-size="5.0" fill="#222" stroke="#222" stroke-width="0.18" text-anchor="end">140</text>
<line x1="380.00" y1="134.6" x2="380.00" y2="137.79999999999998" stroke="#3c3c3c" stroke-width="0.8"/>
<text transform="translate(381.80,140.6) rotate(-90)" font-family="Liberation Sans, sans-serif" font-size="5.0" fill="#222" stroke="#222" stroke-width="0.18" text-anchor="end">150</text>
<text transform="translate(270.20,80.5) rotate(-90)" font-family="Liberation Sans, sans-serif" font-size="7.9" font-style="italic" fill="#222" stroke="#222" stroke-width="0.3" text-anchor="middle" textLength="82" lengthAdjust="spacingAndGlyphs">Soluble transferrin receptor,mg/L</text>
<rect x="288.4" y="178.9" width="96.80" height="108.10" fill="none" stroke="#3c3c3c" stroke-width="1.1"/>
<line x1="285.4" y1="282.09" x2="288.4" y2="282.09" stroke="#3c3c3c" stroke-width="0.9"/>
<text x="282.30" y="283.89" font-family="Liberation Sans, sans-serif" font-size="5.0" fill="#222" stroke="#222" stroke-width="0.18" text-anchor="end">2</text>
<line x1="285.4" y1="268.02" x2="288.4" y2="268.02" stroke="#3c3c3c" stroke-width="0.9"/>
<text x="282.30" y="269.82" font-family="Liberation Sans, sans-serif" font-size="5.0" fill="#222" stroke="#222" stroke-width="0.18" text-anchor="end">3</text>
<line x1="285.4" y1="253.95" x2="288.4" y2="253.95" stroke="#3c3c3c" stroke-width="0.9"/>
<text x="282.30" y="255.75" font-family="Liberation Sans, sans-serif" font-size="5.0" fill="#222" stroke="#222" stroke-width="0.18" text-anchor="end">4</text>
<line x1="285.4" y1="239.88" x2="288.4" y2="239.88" stroke="#3c3c3c" stroke-width="0.9"/>
<text x="282.30" y="241.68" font-family="Liberation Sans, sans-serif" font-size="5.0" fill="#222" stroke="#222" stroke-width="0.18" text-anchor="end">5</text>
<line x1="285.4" y1="225.81" x2="288.4" y2="225.81" stroke="#3c3c3c" stroke-width="0.9"/>
<text x="282.30" y="227.61" font-family="Liberation Sans, sans-serif" font-size="5.0" fill="#222" stroke="#222" stroke-width="0.18" text-anchor="end">6</text>
<line x1="285.4" y1="211.74" x2="288.4" y2="211.74" stroke="#3c3c3c" stroke-width="0.9"/>
<text x="282.30" y="213.54" font-family="Liberation Sans, sans-serif" font-size="5.0" fill="#222" stroke="#222" stroke-width="0.18" text-anchor="end">7</text>
<line x1="285.4" y1="197.67" x2="288.4" y2="197.67" stroke="#3c3c3c" stroke-width="0.9"/>
<text x="282.30" y="199.47" font-family="Liberation Sans, sans-serif" font-size="5.0" fill="#222" stroke="#222" stroke-width="0.18" text-anchor="end">8</text>
<line x1="285.4" y1="183.60" x2="288.4" y2="183.60" stroke="#3c3c3c" stroke-width="0.9"/>
<text x="282.30" y="185.40" font-family="Liberation Sans, sans-serif" font-size="5.0" fill="#222" stroke="#222" stroke-width="0.18" text-anchor="end">9</text>
<line x1="292.30" y1="287.0" x2="292.30" y2="289.6" stroke="#3c3c3c" stroke-width="0.7"/>
<text transform="translate(294.20,293.2) rotate(-90)" font-family="Liberation Sans, sans-serif" font-size="5.3" fill="#222" stroke="#222" stroke-width="0.15" text-anchor="end" textLength="2.4" lengthAdjust="spacingAndGlyphs">0</text>
<line x1="301.14" y1="287.0" x2="301.14" y2="289.6" stroke="#3c3c3c" stroke-width="0.7"/>
<text transform="translate(303.04,293.2) rotate(-90)" font-family="Liberation Sans, sans-serif" font-size="5.3" fill="#222" stroke="#222" stroke-width="0.15" text-anchor="end" textLength="4.8" lengthAdjust="spacingAndGlyphs">10</text>
<line x1="309.98" y1="287.0" x2="309.98" y2="289.6" stroke="#3c3c3c" stroke-width="0.7"/>
<text transform="translate(311.88,293.2) rotate(-90)" font-family="Liberation Sans, sans-serif" font-size="5.3" fill="#222" stroke="#222" stroke-width="0.15" text-anchor="end" textLength="4.8" lengthAdjust="spacingAndGlyphs">20</text>
<line x1="318.82" y1="287.0" x2="318.82" y2="289.6" stroke="#3c3c3c" stroke-width="0.7"/>
<text transform="translate(320.72,293.2) rotate(-90)" font-family="Liberation Sans, sans-serif" font-size="5.3" fill="#222" stroke="#222" stroke-width="0.15" text-anchor="end" textLength="4.8" lengthAdjust="spacingAndGlyphs">30</text>
<line x1="327.66" y1="287.0" x2="327.66" y2="289.6" stroke="#3c3c3c" stroke-width="0.7"/>
<text transform="translate(329.56,293.2) rotate(-90)" font-family="Liberation Sans, sans-serif" font-size="5.3" fill="#222" stroke="#222" stroke-width="0.15" text-anchor="end" textLength="4.8" lengthAdjust="spacingAndGlyphs">40</text>
<line x1="336.50" y1="287.0" x2="336.50" y2="289.6" stroke="#3c3c3c" stroke-width="0.7"/>
<text transform="translate(338.40,293.2) rotate(-90)" font-family="Liberation Sans, sans-serif" font-size="5.3" fill="#222" stroke="#222" stroke-width="0.15" text-anchor="end" textLength="4.8" lengthAdjust="spacingAndGlyphs">50</text>
<line x1="345.34" y1="287.0" x2="345.34" y2="289.6" stroke="#3c3c3c" stroke-width="0.7"/>
<text transform="translate(347.24,293.2) rotate(-90)" font-family="Liberation Sans, sans-serif" font-size="5.3" fill="#222" stroke="#222" stroke-width="0.15" text-anchor="end" textLength="4.8" lengthAdjust="spacingAndGlyphs">60</text>
<line x1="354.18" y1="287.0" x2="354.18" y2="289.6" stroke="#3c3c3c" stroke-width="0.7"/>
<text transform="translate(356.08,293.2) rotate(-90)" font-family="Liberation Sans, sans-serif" font-size="5.3" fill="#222" stroke="#222" stroke-width="0.15" text-anchor="end" textLength="4.8" lengthAdjust="spacingAndGlyphs">70</text>
<line x1="363.02" y1="287.0" x2="363.02" y2="289.6" stroke="#3c3c3c" stroke-width="0.7"/>
<text transform="translate(364.92,293.2) rotate(-90)" font-family="Liberation Sans, sans-serif" font-size="5.3" fill="#222" stroke="#222" stroke-width="0.15" text-anchor="end" textLength="4.8" lengthAdjust="spacingAndGlyphs">80</text>
<line x1="371.86" y1="287.0" x2="371.86" y2="289.6" stroke="#3c3c3c" stroke-width="0.7"/>
<text transform="translate(373.76,293.2) rotate(-90)" font-family="Liberation Sans, sans-serif" font-size="5.3" fill="#222" stroke="#222" stroke-width="0.15" text-anchor="end" textLength="4.8" lengthAdjust="spacingAndGlyphs">90</text>
<line x1="380.70" y1="287.0" x2="380.70" y2="289.6" stroke="#3c3c3c" stroke-width="0.7"/>
<text transform="translate(382.60,293.2) rotate(-90)" font-family="Liberation Sans, sans-serif" font-size="5.3" fill="#222" stroke="#222" stroke-width="0.15" text-anchor="end" textLength="7.2" lengthAdjust="spacingAndGlyphs">100</text>
<text transform="translate(274.70,233.4) rotate(-90)" font-family="Liberation Sans, sans-serif" font-size="7.9" font-style="italic" fill="#222" stroke="#222" stroke-width="0.3" text-anchor="middle" textLength="81.5" lengthAdjust="spacingAndGlyphs">Soluble transferrin receptor,mg/L</text>
<text x="336.80" y="311.3" font-family="Liberation Sans, sans-serif" font-size="7.8" fill="#222" stroke="#222" stroke-width="0.28" text-anchor="middle" textLength="51.4" lengthAdjust="spacingAndGlyphs">Serum ferritin (ug/L)</text>
<text x="393.8" y="13.7" font-family="Liberation Sans, sans-serif" font-weight="bold" font-size="10.6" fill="#111">D</text>
<text x="394.4" y="173.3" font-family="Liberation Sans, sans-serif" font-weight="bold" font-size="10.6" fill="#111">H</text>
<text x="465.4" y="21.7" font-family="Liberation Sans, sans-serif" font-size="7.8" fill="#222" stroke="#222" stroke-width="0.12" text-anchor="middle" textLength="31.3" lengthAdjust="spacingAndGlyphs">Unknown</text>
<rect x="417.0" y="26.4" width="96.80" height="108.20" fill="none" stroke="#3c3c3c" stroke-width="1.1"/>
<line x1="416.5" y1="134.9" x2="514.3" y2="134.9" stroke="#3c3c3c" stroke-width="1.0"/>
<line x1="414.0" y1="130.00" x2="417.0" y2="130.00" stroke="#3c3c3c" stroke-width="0.9"/>
<text x="411.30" y="131.75" font-family="Liberation Sans, sans-serif" font-size="5.0" fill="#222" stroke="#222" stroke-width="0.2" text-anchor="end">0</text>
<line x1="414.0" y1="124.52" x2="417.0" y2="124.52" stroke="#3c3c3c" stroke-width="0.9"/>
<text x="411.30" y="126.27" font-family="Liberation Sans, sans-serif" font-size="5.0" fill="#222" stroke="#222" stroke-width="0.2" text-anchor="end">1</text>
<line x1="414.0" y1="119.04" x2="417.0" y2="119.04" stroke="#3c3c3c" stroke-width="0.9"/>
<text x="411.30" y="120.79" font-family="Liberation Sans, sans-serif" font-size="5.0" fill="#222" stroke="#222" stroke-width="0.2" text-anchor="end">2</text>
<line x1="414.0" y1="113.56" x2="417.0" y2="113.56" stroke="#3c3c3c" stroke-width="0.9"/>
<text x="411.30" y="115.31" font-family="Liberation Sans, sans-serif" font-size="5.0" fill="#222" stroke="#222" stroke-width="0.2" text-anchor="end">3</text>
<line x1="414.0" y1="108.08" x2="417.0" y2="108.08" stroke="#3c3c3c" stroke-width="0.9"/>
<text x="411.30" y="109.83" font-family="Liberation Sans, sans-serif" font-size="5.0" fill="#222" stroke="#222" stroke-width="0.2" text-anchor="end">4</text>
<line x1="414.0" y1="102.60" x2="417.0" y2="102.60" stroke="#3c3c3c" stroke-width="0.9"/>
<text x="411.30" y="104.35" font-family="Liberation Sans, sans-serif" font-size="5.0" fill="#222" stroke="#222" stroke-width="0.2" text-anchor="end">5</text>
<line x1="414.0" y1="97.12" x2="417.0" y2="97.12" stroke="#3c3c3c" stroke-width="0.9"/>
<text x="411.30" y="98.87" font-family="Liberation Sans, sans-serif" font-size="5.0" fill="#222" stroke="#222" stroke-width="0.2" text-anchor="end">6</text>
<line x1="414.0" y1="91.64" x2="417.0" y2="91.64" stroke="#3c3c3c" stroke-width="0.9"/>
<text x="411.30" y="93.39" font-family="Liberation Sans, sans-serif" font-size="5.0" fill="#222" stroke="#222" stroke-width="0.2" text-anchor="end">7</text>
<line x1="414.0" y1="86.16" x2="417.0" y2="86.16" stroke="#3c3c3c" stroke-width="0.9"/>
<text x="411.30" y="87.91" font-family="Liberation Sans, sans-serif" font-size="5.0" fill="#222" stroke="#222" stroke-width="0.2" text-anchor="end">8</text>
<line x1="414.0" y1="80.68" x2="417.0" y2="80.68" stroke="#3c3c3c" stroke-width="0.9"/>
<text x="411.30" y="82.43" font-family="Liberation Sans, sans-serif" font-size="5.0" fill="#222" stroke="#222" stroke-width="0.2" text-anchor="end">9</text>
<line x1="414.0" y1="75.20" x2="417.0" y2="75.20" stroke="#3c3c3c" stroke-width="0.9"/>
<text x="411.30" y="76.95" font-family="Liberation Sans, sans-serif" font-size="5.0" fill="#222" stroke="#222" stroke-width="0.2" text-anchor="end">10</text>
<line x1="414.0" y1="69.72" x2="417.0" y2="69.72" stroke="#3c3c3c" stroke-width="0.9"/>
<text x="411.30" y="71.47" font-family="Liberation Sans, sans-serif" font-size="5.0" fill="#222" stroke="#222" stroke-width="0.2" text-anchor="end">11</text>
<line x1="414.0" y1="64.24" x2="417.0" y2="64.24" stroke="#3c3c3c" stroke-width="0.9"/>
<text x="411.30" y="65.99" font-family="Liberation Sans, sans-serif" font-size="5.0" fill="#222" stroke="#222" stroke-width="0.2" text-anchor="end">12</text>
<line x1="414.0" y1="58.76" x2="417.0" y2="58.76" stroke="#3c3c3c" stroke-width="0.9"/>
<text x="411.30" y="60.51" font-family="Liberation Sans, sans-serif" font-size="5.0" fill="#222" stroke="#222" stroke-width="0.2" text-anchor="end">13</text>
<line x1="414.0" y1="53.28" x2="417.0" y2="53.28" stroke="#3c3c3c" stroke-width="0.9"/>
<text x="411.30" y="55.03" font-family="Liberation Sans, sans-serif" font-size="5.0" fill="#222" stroke="#222" stroke-width="0.2" text-anchor="end">14</text>
<line x1="414.0" y1="47.80" x2="417.0" y2="47.80" stroke="#3c3c3c" stroke-width="0.9"/>
<text x="411.30" y="49.55" font-family="Liberation Sans, sans-serif" font-size="5.0" fill="#222" stroke="#222" stroke-width="0.2" text-anchor="end">15</text>
<line x1="414.0" y1="42.32" x2="417.0" y2="42.32" stroke="#3c3c3c" stroke-width="0.9"/>
<text x="411.30" y="44.07" font-family="Liberation Sans, sans-serif" font-size="5.0" fill="#222" stroke="#222" stroke-width="0.2" text-anchor="end">16</text>
<line x1="414.0" y1="36.84" x2="417.0" y2="36.84" stroke="#3c3c3c" stroke-width="0.9"/>
<text x="411.30" y="38.59" font-family="Liberation Sans, sans-serif" font-size="5.0" fill="#222" stroke="#222" stroke-width="0.2" text-anchor="end">17</text>
<line x1="414.0" y1="31.36" x2="417.0" y2="31.36" stroke="#3c3c3c" stroke-width="0.9"/>
<text x="411.30" y="33.11" font-family="Liberation Sans, sans-serif" font-size="5.0" fill="#222" stroke="#222" stroke-width="0.2" text-anchor="end">18</text>
<line x1="420.80" y1="134.6" x2="420.80" y2="137.79999999999998" stroke="#3c3c3c" stroke-width="0.8"/>
<text transform="translate(422.60,140.6) rotate(-90)" font-family="Liberation Sans, sans-serif" font-size="5.0" fill="#222" stroke="#222" stroke-width="0.18" text-anchor="end">0</text>
<line x1="426.70" y1="134.6" x2="426.70" y2="137.79999999999998" stroke="#3c3c3c" stroke-width="0.8"/>
<text transform="translate(428.50,140.6) rotate(-90)" font-family="Liberation Sans, sans-serif" font-size="5.0" fill="#222" stroke="#222" stroke-width="0.18" text-anchor="end">10</text>
<line x1="432.60" y1="134.6" x2="432.60" y2="137.79999999999998" stroke="#3c3c3c" stroke-width="0.8"/>
<text transform="translate(434.40,140.6) rotate(-90)" font-family="Liberation Sans, sans-serif" font-size="5.0" fill="#222" stroke="#222" stroke-width="0.18" text-anchor="end">20</text>
<line x1="438.50" y1="134.6" x2="438.50" y2="137.79999999999998" stroke="#3c3c3c" stroke-width="0.8"/>
<text transform="translate(440.30,140.6) rotate(-90)" font-family="Liberation Sans, sans-serif" font-size="5.0" fill="#222" stroke="#222" stroke-width="0.18" text-anchor="end">30</text>
<line x1="444.40" y1="134.6" x2="444.40" y2="137.79999999999998" stroke="#3c3c3c" stroke-width="0.8"/>
<text transform="translate(446.20,140.6) rotate(-90)" font-family="Liberation Sans, sans-serif" font-size="5.0" fill="#222" stroke="#222" stroke-width="0.18" text-anchor="end">40</text>
<line x1="450.30" y1="134.6" x2="450.30" y2="137.79999999999998" stroke="#3c3c3c" stroke-width="0.8"/>
<text transform="translate(452.10,140.6) rotate(-90)" font-family="Liberation Sans, sans-serif" font-size="5.0" fill="#222" stroke="#222" stroke-width="0.18" text-anchor="end">50</text>
<line x1="456.20" y1="134.6" x2="456.20" y2="137.79999999999998" stroke="#3c3c3c" stroke-width="0.8"/>
<text transform="translate(458.00,140.6) rotate(-90)" font-family="Liberation Sans, sans-serif" font-size="5.0" fill="#222" stroke="#222" stroke-width="0.18" text-anchor="end">60</text>
<line x1="462.10" y1="134.6" x2="462.10" y2="137.79999999999998" stroke="#3c3c3c" stroke-width="0.8"/>
<text transform="translate(463.90,140.6) rotate(-90)" font-family="Liberation Sans, sans-serif" font-size="5.0" fill="#222" stroke="#222" stroke-width="0.18" text-anchor="end">70</text>
<line x1="468.00" y1="134.6" x2="468.00" y2="137.79999999999998" stroke="#3c3c3c" stroke-width="0.8"/>
<text transform="translate(469.80,140.6) rotate(-90)" font-family="Liberation Sans, sans-serif" font-size="5.0" fill="#222" stroke="#222" stroke-width="0.18" text-anchor="end">80</text>
<line x1="473.90" y1="134.6" x2="473.90" y2="137.79999999999998" stroke="#3c3c3c" stroke-width="0.8"/>
<text transform="translate(475.70,140.6) rotate(-90)" font-family="Liberation Sans, sans-serif" font-size="5.0" fill="#222" stroke="#222" stroke-width="0.18" text-anchor="end">90</text>
<line x1="479.80" y1="134.6" x2="479.80" y2="137.79999999999998" stroke="#3c3c3c" stroke-width="0.8"/>
<text transform="translate(481.60,140.6) rotate(-90)" font-family="Liberation Sans, sans-serif" font-size="5.0" fill="#222" stroke="#222" stroke-width="0.18" text-anchor="end">100</text>
<line x1="485.70" y1="134.6" x2="485.70" y2="137.79999999999998" stroke="#3c3c3c" stroke-width="0.8"/>
<text transform="translate(487.50,140.6) rotate(-90)" font-family="Liberation Sans, sans-serif" font-size="5.0" fill="#222" stroke="#222" stroke-width="0.18" text-anchor="end">110</text>
<line x1="491.60" y1="134.6" x2="491.60" y2="137.79999999999998" stroke="#3c3c3c" stroke-width="0.8"/>
<text transform="translate(493.40,140.6) rotate(-90)" font-family="Liberation Sans, sans-serif" font-size="5.0" fill="#222" stroke="#222" stroke-width="0.18" text-anchor="end">120</text>
<line x1="497.50" y1="134.6" x2="497.50" y2="137.79999999999998" stroke="#3c3c3c" stroke-width="0.8"/>
<text transform="translate(499.30,140.6) rotate(-90)" font-family="Liberation Sans, sans-serif" font-size="5.0" fill="#222" stroke="#222" stroke-width="0.18" text-anchor="end">130</text>
<line x1="503.40" y1="134.6" x2="503.40" y2="137.79999999999998" stroke="#3c3c3c" stroke-width="0.8"/>
<text transform="translate(505.20,140.6) rotate(-90)" font-family="Liberation Sans, sans-serif" font-size="5.0" fill="#222" stroke="#222" stroke-width="0.18" text-anchor="end">140</text>
<line x1="509.30" y1="134.6" x2="509.30" y2="137.79999999999998" stroke="#3c3c3c" stroke-width="0.8"/>
<text transform="translate(511.10,140.6) rotate(-90)" font-family="Liberation Sans, sans-serif" font-size="5.0" fill="#222" stroke="#222" stroke-width="0.18" text-anchor="end">150</text>
<text transform="translate(399.50,80.5) rotate(-90)" font-family="Liberation Sans, sans-serif" font-size="7.9" font-style="italic" fill="#222" stroke="#222" stroke-width="0.3" text-anchor="middle" textLength="82" lengthAdjust="spacingAndGlyphs">Soluble transferrin receptor,mg/L</text>
<rect x="417.3" y="178.9" width="96.80" height="108.10" fill="none" stroke="#3c3c3c" stroke-width="1.1"/>
<line x1="414.3" y1="282.09" x2="417.3" y2="282.09" stroke="#3c3c3c" stroke-width="0.9"/>
<text x="411.20" y="283.89" font-family="Liberation Sans, sans-serif" font-size="5.0" fill="#222" stroke="#222" stroke-width="0.18" text-anchor="end">2</text>
<line x1="414.3" y1="268.02" x2="417.3" y2="268.02" stroke="#3c3c3c" stroke-width="0.9"/>
<text x="411.20" y="269.82" font-family="Liberation Sans, sans-serif" font-size="5.0" fill="#222" stroke="#222" stroke-width="0.18" text-anchor="end">3</text>
<line x1="414.3" y1="253.95" x2="417.3" y2="253.95" stroke="#3c3c3c" stroke-width="0.9"/>
<text x="411.20" y="255.75" font-family="Liberation Sans, sans-serif" font-size="5.0" fill="#222" stroke="#222" stroke-width="0.18" text-anchor="end">4</text>
<line x1="414.3" y1="239.88" x2="417.3" y2="239.88" stroke="#3c3c3c" stroke-width="0.9"/>
<text x="411.20" y="241.68" font-family="Liberation Sans, sans-serif" font-size="5.0" fill="#222" stroke="#222" stroke-width="0.18" text-anchor="end">5</text>
<line x1="414.3" y1="225.81" x2="417.3" y2="225.81" stroke="#3c3c3c" stroke-width="0.9"/>
<text x="411.20" y="227.61" font-family="Liberation Sans, sans-serif" font-size="5.0" fill="#222" stroke="#222" stroke-width="0.18" text-anchor="end">6</text>
<line x1="414.3" y1="211.74" x2="417.3" y2="211.74" stroke="#3c3c3c" stroke-width="0.9"/>
<text x="411.20" y="213.54" font-family="Liberation Sans, sans-serif" font-size="5.0" fill="#222" stroke="#222" stroke-width="0.18" text-anchor="end">7</text>
<line x1="414.3" y1="197.67" x2="417.3" y2="197.67" stroke="#3c3c3c" stroke-width="0.9"/>
<text x="411.20" y="199.47" font-family="Liberation Sans, sans-serif" font-size="5.0" fill="#222" stroke="#222" stroke-width="0.18" text-anchor="end">8</text>
<line x1="414.3" y1="183.60" x2="417.3" y2="183.60" stroke="#3c3c3c" stroke-width="0.9"/>
<text x="411.20" y="185.40" font-family="Liberation Sans, sans-serif" font-size="5.0" fill="#222" stroke="#222" stroke-width="0.18" text-anchor="end">9</text>
<line x1="421.20" y1="287.0" x2="421.20" y2="289.6" stroke="#3c3c3c" stroke-width="0.7"/>
<text transform="translate(423.10,293.2) rotate(-90)" font-family="Liberation Sans, sans-serif" font-size="5.3" fill="#222" stroke="#222" stroke-width="0.15" text-anchor="end" textLength="2.4" lengthAdjust="spacingAndGlyphs">0</text>
<line x1="430.04" y1="287.0" x2="430.04" y2="289.6" stroke="#3c3c3c" stroke-width="0.7"/>
<text transform="translate(431.94,293.2) rotate(-90)" font-family="Liberation Sans, sans-serif" font-size="5.3" fill="#222" stroke="#222" stroke-width="0.15" text-anchor="end" textLength="4.8" lengthAdjust="spacingAndGlyphs">10</text>
<line x1="438.88" y1="287.0" x2="438.88" y2="289.6" stroke="#3c3c3c" stroke-width="0.7"/>
<text transform="translate(440.78,293.2) rotate(-90)" font-family="Liberation Sans, sans-serif" font-size="5.3" fill="#222" stroke="#222" stroke-width="0.15" text-anchor="end" textLength="4.8" lengthAdjust="spacingAndGlyphs">20</text>
<line x1="447.72" y1="287.0" x2="447.72" y2="289.6" stroke="#3c3c3c" stroke-width="0.7"/>
<text transform="translate(449.62,293.2) rotate(-90)" font-family="Liberation Sans, sans-serif" font-size="5.3" fill="#222" stroke="#222" stroke-width="0.15" text-anchor="end" textLength="4.8" lengthAdjust="spacingAndGlyphs">30</text>
<line x1="456.56" y1="287.0" x2="456.56" y2="289.6" stroke="#3c3c3c" stroke-width="0.7"/>
<text transform="translate(458.46,293.2) rotate(-90)" font-family="Liberation Sans, sans-serif" font-size="5.3" fill="#222" stroke="#222" stroke-width="0.15" text-anchor="end" textLength="4.8" lengthAdjust="spacingAndGlyphs">40</text>
<line x1="465.40" y1="287.0" x2="465.40" y2="289.6" stroke="#3c3c3c" stroke-width="0.7"/>
<text transform="translate(467.30,293.2) rotate(-90)" font-family="Liberation Sans, sans-serif" font-size="5.3" fill="#222" stroke="#222" stroke-width="0.15" text-anchor="end" textLength="4.8" lengthAdjust="spacingAndGlyphs">50</text>
<line x1="474.24" y1="287.0" x2="474.24" y2="289.6" stroke="#3c3c3c" stroke-width="0.7"/>
<text transform="translate(476.14,293.2) rotate(-90)" font-family="Liberation Sans, sans-serif" font-size="5.3" fill="#222" stroke="#222" stroke-width="0.15" text-anchor="end" textLength="4.8" lengthAdjust="spacingAndGlyphs">60</text>
<line x1="483.08" y1="287.0" x2="483.08" y2="289.6" stroke="#3c3c3c" stroke-width="0.7"/>
<text transform="translate(484.98,293.2) rotate(-90)" font-family="Liberation Sans, sans-serif" font-size="5.3" fill="#222" stroke="#222" stroke-width="0.15" text-anchor="end" textLength="4.8" lengthAdjust="spacingAndGlyphs">70</text>
<line x1="491.92" y1="287.0" x2="491.92" y2="289.6" stroke="#3c3c3c" stroke-width="0.7"/>
<text transform="translate(493.82,293.2) rotate(-90)" font-family="Liberation Sans, sans-serif" font-size="5.3" fill="#222" stroke="#222" stroke-width="0.15" text-anchor="end" textLength="4.8" lengthAdjust="spacingAndGlyphs">80</text>
<line x1="500.76" y1="287.0" x2="500.76" y2="289.6" stroke="#3c3c3c" stroke-width="0.7"/>
<text transform="translate(502.66,293.2) rotate(-90)" font-family="Liberation Sans, sans-serif" font-size="5.3" fill="#222" stroke="#222" stroke-width="0.15" text-anchor="end" textLength="4.8" lengthAdjust="spacingAndGlyphs">90</text>
<line x1="509.60" y1="287.0" x2="509.60" y2="289.6" stroke="#3c3c3c" stroke-width="0.7"/>
<text transform="translate(511.50,293.2) rotate(-90)" font-family="Liberation Sans, sans-serif" font-size="5.3" fill="#222" stroke="#222" stroke-width="0.15" text-anchor="end" textLength="7.2" lengthAdjust="spacingAndGlyphs">100</text>
<text transform="translate(403.60,233.4) rotate(-90)" font-family="Liberation Sans, sans-serif" font-size="7.9" font-style="italic" fill="#222" stroke="#222" stroke-width="0.3" text-anchor="middle" textLength="81.5" lengthAdjust="spacingAndGlyphs">Soluble transferrin receptor,mg/L</text>
<text x="465.70" y="311.3" font-family="Liberation Sans, sans-serif" font-size="7.8" fill="#222" stroke="#222" stroke-width="0.28" text-anchor="middle" textLength="51.4" lengthAdjust="spacingAndGlyphs">Serum ferritin (ug/L)</text>
<g fill="#8c8c8c" fill-opacity="0.65"><circle cx="37.5" cy="92.5" r="0.95"/><circle cx="40.0" cy="97.5" r="0.95"/><circle cx="50.0" cy="98.8" r="0.95"/><circle cx="35.0" cy="100.7" r="0.95"/><circle cx="42.5" cy="103.8" r="0.95"/><circle cx="45.7" cy="102.5" r="0.95"/><circle cx="60.0" cy="102.5" r="0.95"/><circle cx="63.2" cy="103.2" r="0.95"/><circle cx="70.1" cy="101.9" r="0.95"/><circle cx="78.2" cy="101.3" r="0.95"/><circle cx="38.8" cy="106.9" r="0.95"/><circle cx="43.2" cy="106.3" r="0.95"/><circle cx="48.8" cy="108.2" r="0.95"/><circle cx="52.6" cy="108.2" r="0.95"/><circle cx="61.3" cy="106.3" r="0.95"/><circle cx="66.3" cy="107.5" r="0.95"/><circle cx="73.2" cy="107.5" r="0.95"/><circle cx="76.4" cy="109.4" r="0.95"/><circle cx="46.3" cy="110.7" r="0.95"/><circle cx="50.0" cy="110.7" r="0.95"/><circle cx="54.4" cy="111.3" r="0.95"/><circle cx="58.8" cy="110.7" r="0.95"/><circle cx="70.1" cy="110.0" r="0.95"/><circle cx="75.1" cy="113.2" r="0.95"/><circle cx="53.2" cy="113.2" r="0.95"/><circle cx="55.0" cy="115.0" r="0.95"/><circle cx="36.9" cy="118.2" r="0.95"/><circle cx="45.0" cy="119.4" r="0.95"/><circle cx="47.5" cy="116.3" r="0.95"/><circle cx="51.9" cy="120.0" r="0.95"/><circle cx="56.9" cy="120.0" r="0.95"/><circle cx="63.2" cy="119.4" r="0.95"/><circle cx="65.7" cy="122.0" r="0.95"/><circle cx="70.1" cy="122.6" r="0.95"/><circle cx="74.5" cy="125.7" r="0.95"/><circle cx="73.9" cy="118.8" r="0.95"/><circle cx="41.3" cy="116.3" r="0.95"/><circle cx="119.4" cy="90.6" r="0.95"/><circle cx="86.8" cy="97.5" r="0.95"/><circle cx="108.1" cy="100.0" r="0.95"/><circle cx="78.6" cy="101.3" r="0.95"/><circle cx="83.0" cy="108.8" r="0.95"/><circle cx="91.8" cy="106.9" r="0.95"/><circle cx="96.2" cy="109.4" r="0.95"/><circle cx="99.9" cy="108.8" r="0.95"/><circle cx="87.4" cy="120.0" r="0.95"/><circle cx="81.8" cy="123.2" r="0.95"/><circle cx="98.0" cy="120.7" r="0.95"/><circle cx="104.3" cy="119.4" r="0.95"/><circle cx="101.8" cy="123.2" r="0.95"/><circle cx="116.2" cy="122.3" r="0.95"/><circle cx="79.9" cy="113.2" r="0.95"/><circle cx="38.5" cy="71.7" r="0.95"/><circle cx="36.2" cy="82.7" r="0.95"/><circle cx="37.6" cy="82.7" r="0.95"/><circle cx="37.2" cy="88.0" r="0.95"/><circle cx="35.5" cy="95.0" r="0.95"/><circle cx="66.1" cy="112.9" r="0.95"/><circle cx="74.1" cy="121.1" r="0.95"/><circle cx="53.9" cy="110.1" r="0.95"/><circle cx="43.0" cy="116.8" r="0.95"/><circle cx="44.2" cy="118.8" r="0.95"/><circle cx="42.9" cy="116.3" r="0.95"/><circle cx="73.8" cy="115.0" r="0.95"/><circle cx="45.2" cy="117.0" r="0.95"/><circle cx="38.9" cy="106.9" r="0.95"/><circle cx="42.8" cy="115.1" r="0.95"/><circle cx="107.9" cy="117.1" r="0.95"/><circle cx="63.3" cy="104.5" r="0.95"/><circle cx="74.9" cy="118.0" r="0.95"/><circle cx="58.9" cy="121.3" r="0.95"/><circle cx="40.6" cy="114.5" r="0.95"/><circle cx="60.0" cy="114.2" r="0.95"/><circle cx="63.3" cy="116.6" r="0.95"/><circle cx="74.4" cy="112.6" r="0.95"/><circle cx="54.6" cy="115.5" r="0.95"/><circle cx="35.3" cy="116.2" r="0.95"/><circle cx="70.7" cy="108.3" r="0.95"/><circle cx="58.9" cy="114.5" r="0.95"/><circle cx="35.4" cy="111.4" r="0.95"/><circle cx="66.7" cy="105.7" r="0.95"/><circle cx="113.9" cy="116.8" r="0.95"/><circle cx="67.6" cy="112.4" r="0.95"/><circle cx="66.4" cy="113.2" r="0.95"/><circle cx="75.2" cy="120.2" r="0.95"/><circle cx="48.4" cy="119.9" r="0.95"/><circle cx="74.2" cy="119.2" r="0.95"/></g>
<g fill="#505050" fill-opacity="0.42"><circle cx="193.9" cy="114.7" r="0.95"/><circle cx="165.3" cy="110.5" r="0.95"/><circle cx="173.4" cy="118.0" r="0.95"/><circle cx="193.7" cy="108.3" r="0.95"/><circle cx="172.5" cy="108.6" r="0.95"/><circle cx="174.9" cy="116.7" r="0.95"/><circle cx="183.5" cy="117.3" r="0.95"/><circle cx="181.5" cy="116.5" r="0.95"/><circle cx="189.9" cy="113.9" r="0.95"/><circle cx="175.0" cy="121.2" r="0.95"/><circle cx="166.6" cy="108.3" r="0.95"/><circle cx="192.9" cy="115.9" r="0.95"/><circle cx="164.8" cy="107.7" r="0.95"/><circle cx="164.1" cy="114.9" r="0.95"/><circle cx="163.9" cy="104.3" r="0.95"/><circle cx="168.6" cy="115.0" r="0.95"/><circle cx="187.1" cy="116.2" r="0.95"/><circle cx="167.0" cy="108.3" r="0.95"/><circle cx="171.0" cy="118.1" r="0.95"/><circle cx="164.7" cy="107.4" r="0.95"/><circle cx="168.0" cy="115.9" r="0.95"/><circle cx="192.3" cy="113.7" r="0.95"/><circle cx="168.2" cy="105.1" r="0.95"/><circle cx="171.0" cy="109.1" r="0.95"/><circle cx="167.1" cy="114.0" r="0.95"/><circle cx="171.0" cy="112.0" r="0.95"/><circle cx="173.1" cy="112.8" r="0.95"/><circle cx="168.8" cy="106.7" r="0.95"/><circle cx="187.5" cy="120.2" r="0.95"/><circle cx="170.6" cy="112.1" r="0.95"/><circle cx="208.5" cy="115.3" r="0.95"/><circle cx="173.2" cy="117.9" r="0.95"/><circle cx="178.3" cy="112.9" r="0.95"/><circle cx="163.8" cy="114.4" r="0.95"/><circle cx="173.2" cy="115.5" r="0.95"/><circle cx="168.8" cy="111.3" r="0.95"/><circle cx="163.8" cy="105.2" r="0.95"/><circle cx="165.7" cy="112.3" r="0.95"/><circle cx="182.3" cy="113.9" r="0.95"/><circle cx="169.4" cy="110.7" r="0.95"/><circle cx="167.8" cy="113.4" r="0.95"/><circle cx="163.9" cy="117.7" r="0.95"/><circle cx="181.4" cy="112.7" r="0.95"/><circle cx="168.3" cy="112.4" r="0.95"/><circle cx="175.4" cy="117.0" r="0.95"/><circle cx="166.2" cy="111.3" r="0.95"/><circle cx="174.0" cy="110.1" r="0.95"/><circle cx="164.1" cy="100.4" r="0.95"/><circle cx="172.0" cy="109.9" r="0.95"/><circle cx="177.0" cy="113.8" r="0.95"/><circle cx="172.9" cy="106.2" r="0.95"/><circle cx="170.6" cy="114.5" r="0.95"/><circle cx="167.2" cy="107.3" r="0.95"/><circle cx="168.2" cy="117.4" r="0.95"/><circle cx="165.4" cy="108.1" r="0.95"/><circle cx="168.0" cy="118.9" r="0.95"/><circle cx="170.2" cy="112.7" r="0.95"/><circle cx="180.8" cy="112.4" r="0.95"/><circle cx="174.7" cy="110.4" r="0.95"/><circle cx="168.7" cy="120.2" r="0.95"/><circle cx="176.9" cy="118.1" r="0.95"/><circle cx="165.0" cy="106.6" r="0.95"/><circle cx="168.4" cy="112.5" r="0.95"/><circle cx="165.2" cy="105.1" r="0.95"/><circle cx="182.6" cy="118.0" r="0.95"/><circle cx="164.1" cy="112.5" r="0.95"/><circle cx="174.3" cy="112.2" r="0.95"/><circle cx="164.0" cy="116.4" r="0.95"/><circle cx="170.2" cy="104.6" r="0.95"/><circle cx="172.9" cy="117.0" r="0.95"/><circle cx="167.5" cy="100.8" r="0.95"/><circle cx="185.6" cy="116.5" r="0.95"/><circle cx="173.4" cy="115.6" r="0.95"/><circle cx="164.4" cy="106.4" r="0.95"/><circle cx="166.7" cy="108.6" r="0.95"/><circle cx="169.0" cy="112.9" r="0.95"/><circle cx="165.3" cy="114.9" r="0.95"/><circle cx="179.3" cy="114.5" r="0.95"/><circle cx="170.9" cy="106.0" r="0.95"/><circle cx="164.2" cy="116.2" r="0.95"/><circle cx="170.2" cy="113.4" r="0.95"/><circle cx="166.9" cy="110.3" r="0.95"/><circle cx="163.8" cy="99.6" r="0.95"/><circle cx="169.9" cy="113.8" r="0.95"/><circle cx="170.1" cy="110.5" r="0.95"/><circle cx="186.8" cy="113.9" r="0.95"/><circle cx="169.5" cy="114.2" r="0.95"/><circle cx="179.3" cy="115.7" r="0.95"/><circle cx="167.6" cy="112.9" r="0.95"/><circle cx="165.1" cy="110.3" r="0.95"/><circle cx="177.9" cy="114.1" r="0.95"/><circle cx="172.7" cy="110.1" r="0.95"/><circle cx="187.3" cy="117.4" r="0.95"/><circle cx="174.9" cy="116.0" r="0.95"/><circle cx="167.3" cy="116.1" r="0.95"/><circle cx="168.7" cy="110.0" r="0.95"/><circle cx="171.5" cy="112.8" r="0.95"/><circle cx="177.8" cy="117.1" r="0.95"/><circle cx="170.8" cy="115.7" r="0.95"/><circle cx="166.2" cy="115.9" r="0.95"/><circle cx="168.0" cy="111.6" r="0.95"/><circle cx="171.6" cy="117.1" r="0.95"/><circle cx="168.4" cy="108.4" r="0.95"/><circle cx="172.2" cy="109.6" r="0.95"/><circle cx="177.9" cy="111.0" r="0.95"/><circle cx="165.9" cy="106.8" r="0.95"/><circle cx="167.7" cy="114.5" r="0.95"/><circle cx="169.3" cy="115.5" r="0.95"/><circle cx="165.0" cy="105.7" r="0.95"/><circle cx="164.5" cy="112.2" r="0.95"/><circle cx="169.7" cy="112.9" r="0.95"/><circle cx="166.3" cy="110.3" r="0.95"/><circle cx="169.1" cy="114.9" r="0.95"/><circle cx="165.7" cy="115.7" r="0.95"/><circle cx="164.3" cy="108.6" r="0.95"/><circle cx="171.2" cy="113.0" r="0.95"/><circle cx="173.0" cy="116.1" r="0.95"/><circle cx="166.2" cy="107.6" r="0.95"/><circle cx="168.6" cy="109.5" r="0.95"/><circle cx="165.3" cy="109.8" r="0.95"/><circle cx="188.3" cy="120.8" r="0.95"/><circle cx="170.7" cy="114.5" r="0.95"/><circle cx="192.3" cy="111.7" r="0.95"/><circle cx="164.4" cy="112.3" r="0.95"/><circle cx="181.9" cy="117.0" r="0.95"/><circle cx="178.3" cy="113.1" r="0.95"/><circle cx="166.9" cy="112.8" r="0.95"/><circle cx="167.4" cy="113.3" r="0.95"/><circle cx="169.1" cy="113.1" r="0.95"/><circle cx="166.6" cy="111.2" r="0.95"/><circle cx="178.6" cy="116.8" r="0.95"/><circle cx="175.9" cy="116.7" r="0.95"/><circle cx="164.2" cy="113.0" r="0.95"/><circle cx="168.0" cy="112.5" r="0.95"/><circle cx="185.3" cy="116.4" r="0.95"/><circle cx="163.9" cy="97.2" r="0.95"/><circle cx="179.2" cy="120.4" r="0.95"/><circle cx="163.6" cy="111.0" r="0.95"/><circle cx="166.9" cy="107.1" r="0.95"/><circle cx="167.4" cy="117.4" r="0.95"/><circle cx="165.8" cy="114.0" r="0.95"/><circle cx="173.5" cy="111.4" r="0.95"/><circle cx="184.6" cy="118.2" r="0.95"/><circle cx="167.4" cy="112.2" r="0.95"/><circle cx="165.0" cy="111.5" r="0.95"/><circle cx="167.8" cy="109.8" r="0.95"/><circle cx="166.6" cy="108.7" r="0.95"/><circle cx="186.1" cy="113.9" r="0.95"/><circle cx="166.1" cy="109.7" r="0.95"/><circle cx="188.8" cy="113.0" r="0.95"/><circle cx="163.8" cy="114.9" r="0.95"/><circle cx="168.9" cy="112.8" r="0.95"/><circle cx="163.8" cy="110.6" r="0.95"/><circle cx="169.9" cy="118.2" r="0.95"/><circle cx="170.3" cy="110.8" r="0.95"/><circle cx="167.0" cy="108.6" r="0.95"/><circle cx="165.1" cy="105.4" r="0.95"/><circle cx="171.2" cy="112.5" r="0.95"/><circle cx="166.2" cy="107.5" r="0.95"/><circle cx="174.7" cy="111.0" r="0.95"/><circle cx="171.9" cy="110.9" r="0.95"/><circle cx="167.8" cy="112.4" r="0.95"/><circle cx="168.5" cy="112.3" r="0.95"/><circle cx="170.3" cy="115.0" r="0.95"/><circle cx="168.0" cy="112.9" r="0.95"/><circle cx="166.9" cy="104.1" r="0.95"/><circle cx="181.3" cy="113.1" r="0.95"/><circle cx="167.6" cy="115.2" r="0.95"/><circle cx="166.4" cy="110.9" r="0.95"/><circle cx="164.4" cy="119.1" r="0.95"/><circle cx="195.7" cy="114.2" r="0.95"/><circle cx="177.2" cy="117.8" r="0.95"/><circle cx="169.8" cy="106.0" r="0.95"/><circle cx="168.7" cy="113.3" r="0.95"/><circle cx="168.0" cy="111.0" r="0.95"/><circle cx="177.6" cy="118.0" r="0.95"/><circle cx="167.8" cy="116.6" r="0.95"/><circle cx="189.9" cy="114.8" r="0.95"/><circle cx="171.3" cy="115.6" r="0.95"/><circle cx="172.2" cy="117.7" r="0.95"/><circle cx="168.3" cy="117.8" r="0.95"/><circle cx="185.8" cy="112.2" r="0.95"/><circle cx="192.8" cy="116.3" r="0.95"/><circle cx="163.8" cy="114.4" r="0.95"/><circle cx="176.4" cy="115.8" r="0.95"/><circle cx="174.3" cy="119.3" r="0.95"/><circle cx="168.2" cy="110.2" r="0.95"/><circle cx="163.9" cy="112.9" r="0.95"/><circle cx="165.5" cy="110.4" r="0.95"/><circle cx="164.2" cy="104.4" r="0.95"/><circle cx="176.1" cy="108.2" r="0.95"/><circle cx="165.1" cy="112.0" r="0.95"/><circle cx="165.1" cy="105.6" r="0.95"/><circle cx="167.3" cy="110.1" r="0.95"/><circle cx="167.6" cy="105.2" r="0.95"/><circle cx="203.1" cy="116.3" r="0.95"/><circle cx="165.8" cy="115.8" r="0.95"/><circle cx="166.1" cy="112.2" r="0.95"/><circle cx="166.9" cy="110.3" r="0.95"/><circle cx="171.1" cy="110.1" r="0.95"/><circle cx="165.9" cy="114.0" r="0.95"/><circle cx="166.9" cy="109.1" r="0.95"/><circle cx="166.9" cy="114.6" r="0.95"/><circle cx="188.0" cy="118.7" r="0.95"/><circle cx="165.0" cy="114.5" r="0.95"/><circle cx="170.5" cy="111.2" r="0.95"/><circle cx="169.6" cy="116.8" r="0.95"/><circle cx="165.6" cy="116.6" r="0.95"/><circle cx="170.2" cy="113.7" r="0.95"/><circle cx="172.2" cy="115.8" r="0.95"/><circle cx="166.0" cy="111.0" r="0.95"/><circle cx="185.0" cy="114.8" r="0.95"/><circle cx="204.5" cy="113.1" r="0.95"/><circle cx="171.6" cy="117.7" r="0.95"/><circle cx="167.5" cy="107.3" r="0.95"/><circle cx="168.0" cy="104.7" r="0.95"/><circle cx="164.6" cy="116.2" r="0.95"/><circle cx="175.0" cy="116.9" r="0.95"/><circle cx="167.5" cy="118.1" r="0.95"/><circle cx="165.6" cy="118.0" r="0.95"/><circle cx="173.6" cy="113.6" r="0.95"/><circle cx="198.7" cy="119.4" r="0.95"/><circle cx="169.5" cy="99.6" r="0.95"/><circle cx="168.9" cy="109.9" r="0.95"/><circle cx="168.7" cy="111.1" r="0.95"/><circle cx="170.1" cy="109.4" r="0.95"/><circle cx="167.0" cy="116.8" r="0.95"/><circle cx="179.0" cy="113.3" r="0.95"/><circle cx="195.5" cy="113.2" r="0.95"/><circle cx="174.8" cy="110.9" r="0.95"/><circle cx="181.2" cy="119.9" r="0.95"/><circle cx="172.5" cy="113.7" r="0.95"/><circle cx="180.6" cy="113.9" r="0.95"/><circle cx="167.3" cy="111.5" r="0.95"/><circle cx="168.7" cy="107.0" r="0.95"/><circle cx="181.0" cy="115.5" r="0.95"/><circle cx="169.4" cy="114.4" r="0.95"/><circle cx="183.8" cy="110.8" r="0.95"/><circle cx="186.1" cy="115.1" r="0.95"/><circle cx="178.2" cy="115.9" r="0.95"/><circle cx="168.1" cy="115.4" r="0.95"/><circle cx="164.3" cy="114.0" r="0.95"/><circle cx="182.8" cy="117.1" r="0.95"/><circle cx="166.7" cy="108.1" r="0.95"/><circle cx="170.0" cy="108.3" r="0.95"/><circle cx="170.3" cy="118.1" r="0.95"/><circle cx="185.1" cy="119.0" r="0.95"/><circle cx="174.2" cy="115.4" r="0.95"/><circle cx="203.7" cy="113.4" r="0.95"/><circle cx="168.1" cy="113.1" r="0.95"/><circle cx="175.8" cy="109.2" r="0.95"/><circle cx="168.1" cy="114.4" r="0.95"/><circle cx="167.4" cy="111.8" r="0.95"/><circle cx="165.0" cy="110.3" r="0.95"/><circle cx="163.9" cy="106.9" r="0.95"/><circle cx="167.4" cy="110.8" r="0.95"/><circle cx="166.0" cy="107.9" r="0.95"/><circle cx="169.0" cy="111.8" r="0.95"/><circle cx="180.5" cy="116.2" r="0.95"/><circle cx="168.0" cy="109.8" r="0.95"/><circle cx="165.8" cy="109.5" r="0.95"/><circle cx="168.1" cy="111.7" r="0.95"/><circle cx="168.6" cy="112.6" r="0.95"/><circle cx="171.7" cy="112.5" r="0.95"/><circle cx="164.3" cy="110.5" r="0.95"/><circle cx="168.1" cy="112.6" r="0.95"/><circle cx="165.7" cy="113.3" r="0.95"/><circle cx="171.0" cy="112.3" r="0.95"/><circle cx="165.4" cy="108.1" r="0.95"/><circle cx="172.0" cy="111.3" r="0.95"/><circle cx="167.9" cy="110.0" r="0.95"/><circle cx="165.0" cy="112.8" r="0.95"/><circle cx="164.3" cy="111.2" r="0.95"/><circle cx="169.6" cy="113.1" r="0.95"/><circle cx="171.9" cy="111.0" r="0.95"/><circle cx="170.3" cy="114.4" r="0.95"/><circle cx="180.9" cy="115.0" r="0.95"/><circle cx="166.7" cy="111.5" r="0.95"/><circle cx="176.4" cy="112.6" r="0.95"/><circle cx="167.2" cy="113.3" r="0.95"/><circle cx="167.5" cy="112.2" r="0.95"/><circle cx="174.8" cy="115.3" r="0.95"/><circle cx="166.1" cy="108.4" r="0.95"/><circle cx="169.3" cy="115.7" r="0.95"/><circle cx="169.3" cy="111.8" r="0.95"/><circle cx="165.5" cy="114.6" r="0.95"/><circle cx="171.0" cy="115.9" r="0.95"/><circle cx="164.5" cy="112.1" r="0.95"/><circle cx="165.6" cy="115.7" r="0.95"/><circle cx="177.9" cy="115.4" r="0.95"/><circle cx="167.8" cy="114.4" r="0.95"/><circle cx="166.8" cy="113.0" r="0.95"/><circle cx="170.0" cy="111.2" r="0.95"/><circle cx="164.8" cy="111.1" r="0.95"/><circle cx="164.9" cy="112.1" r="0.95"/><circle cx="166.2" cy="113.6" r="0.95"/><circle cx="169.6" cy="116.4" r="0.95"/><circle cx="167.7" cy="112.5" r="0.95"/><circle cx="165.8" cy="111.0" r="0.95"/><circle cx="173.3" cy="114.4" r="0.95"/><circle cx="164.5" cy="76.9" r="0.95"/><circle cx="165.5" cy="82.0" r="0.95"/><circle cx="165.5" cy="86.4" r="0.95"/><circle cx="165.0" cy="90.0" r="0.95"/><circle cx="166.0" cy="93.0" r="0.95"/><circle cx="168.0" cy="96.0" r="0.95"/><circle cx="227.2" cy="105.5" r="0.95"/><circle cx="246.4" cy="105.5" r="0.95"/><circle cx="232.3" cy="110.8" r="0.95"/><circle cx="220.0" cy="113.6" r="0.95"/><circle cx="208.8" cy="113.6" r="0.95"/><circle cx="235.1" cy="120.2" r="0.95"/><circle cx="246.8" cy="118.0" r="0.95"/></g>
<g fill="#404040" fill-opacity="0.42"><circle cx="297.6" cy="116.9" r="0.95"/><circle cx="299.3" cy="117.9" r="0.95"/><circle cx="307.8" cy="111.8" r="0.95"/><circle cx="297.0" cy="102.7" r="0.95"/><circle cx="297.2" cy="119.8" r="0.95"/><circle cx="294.4" cy="103.1" r="0.95"/><circle cx="296.8" cy="102.9" r="0.95"/><circle cx="296.0" cy="107.5" r="0.95"/><circle cx="309.1" cy="119.4" r="0.95"/><circle cx="292.9" cy="107.9" r="0.95"/><circle cx="294.5" cy="105.0" r="0.95"/><circle cx="293.0" cy="87.4" r="0.95"/><circle cx="294.0" cy="107.6" r="0.95"/><circle cx="294.5" cy="107.7" r="0.95"/><circle cx="293.8" cy="105.3" r="0.95"/><circle cx="301.2" cy="112.6" r="0.95"/><circle cx="293.0" cy="103.6" r="0.95"/><circle cx="292.5" cy="101.6" r="0.95"/><circle cx="293.7" cy="103.5" r="0.95"/><circle cx="296.3" cy="102.0" r="0.95"/><circle cx="297.0" cy="110.4" r="0.95"/><circle cx="296.4" cy="114.6" r="0.95"/><circle cx="301.8" cy="105.1" r="0.95"/><circle cx="297.2" cy="103.6" r="0.95"/><circle cx="294.5" cy="100.4" r="0.95"/><circle cx="296.7" cy="115.4" r="0.95"/><circle cx="292.6" cy="94.7" r="0.95"/><circle cx="296.2" cy="106.4" r="0.95"/><circle cx="297.1" cy="111.7" r="0.95"/><circle cx="296.2" cy="96.5" r="0.95"/><circle cx="295.3" cy="108.0" r="0.95"/><circle cx="293.7" cy="111.4" r="0.95"/><circle cx="298.7" cy="113.7" r="0.95"/><circle cx="314.4" cy="107.8" r="0.95"/><circle cx="296.1" cy="105.1" r="0.95"/><circle cx="301.3" cy="120.6" r="0.95"/><circle cx="297.0" cy="106.3" r="0.95"/><circle cx="293.6" cy="113.3" r="0.95"/><circle cx="294.1" cy="113.7" r="0.95"/><circle cx="293.8" cy="110.4" r="0.95"/><circle cx="292.7" cy="91.8" r="0.95"/><circle cx="327.5" cy="117.5" r="0.95"/><circle cx="292.5" cy="95.9" r="0.95"/><circle cx="302.9" cy="115.5" r="0.95"/><circle cx="292.6" cy="89.0" r="0.95"/><circle cx="293.7" cy="105.8" r="0.95"/><circle cx="295.4" cy="106.2" r="0.95"/><circle cx="314.7" cy="119.9" r="0.95"/><circle cx="304.1" cy="113.5" r="0.95"/><circle cx="298.4" cy="112.2" r="0.95"/><circle cx="293.1" cy="108.5" r="0.95"/><circle cx="295.9" cy="105.6" r="0.95"/><circle cx="292.5" cy="103.9" r="0.95"/><circle cx="295.5" cy="107.0" r="0.95"/><circle cx="302.7" cy="117.8" r="0.95"/><circle cx="293.7" cy="109.2" r="0.95"/><circle cx="292.6" cy="108.0" r="0.95"/><circle cx="294.8" cy="103.2" r="0.95"/><circle cx="292.1" cy="109.6" r="0.95"/><circle cx="300.4" cy="111.7" r="0.95"/><circle cx="292.4" cy="91.6" r="0.95"/><circle cx="293.3" cy="84.1" r="0.95"/><circle cx="299.1" cy="107.9" r="0.95"/><circle cx="292.3" cy="105.9" r="0.95"/><circle cx="302.4" cy="119.9" r="0.95"/><circle cx="305.5" cy="115.0" r="0.95"/><circle cx="298.8" cy="111.0" r="0.95"/><circle cx="296.0" cy="106.5" r="0.95"/><circle cx="294.5" cy="109.6" r="0.95"/><circle cx="294.0" cy="117.4" r="0.95"/><circle cx="311.7" cy="113.1" r="0.95"/><circle cx="293.0" cy="111.2" r="0.95"/><circle cx="293.1" cy="105.9" r="0.95"/><circle cx="295.3" cy="108.0" r="0.95"/><circle cx="293.2" cy="114.3" r="0.95"/><circle cx="293.2" cy="100.3" r="0.95"/><circle cx="307.2" cy="108.8" r="0.95"/><circle cx="305.9" cy="116.7" r="0.95"/><circle cx="307.2" cy="117.9" r="0.95"/><circle cx="302.6" cy="114.5" r="0.95"/><circle cx="296.6" cy="114.8" r="0.95"/><circle cx="297.2" cy="111.6" r="0.95"/><circle cx="296.0" cy="106.8" r="0.95"/><circle cx="294.8" cy="110.5" r="0.95"/><circle cx="294.8" cy="101.1" r="0.95"/><circle cx="302.6" cy="120.7" r="0.95"/><circle cx="296.2" cy="108.5" r="0.95"/><circle cx="305.8" cy="116.8" r="0.95"/><circle cx="294.9" cy="108.0" r="0.95"/><circle cx="297.2" cy="110.6" r="0.95"/><circle cx="303.7" cy="117.1" r="0.95"/><circle cx="294.9" cy="114.3" r="0.95"/><circle cx="295.2" cy="109.7" r="0.95"/><circle cx="306.9" cy="112.2" r="0.95"/><circle cx="300.3" cy="108.1" r="0.95"/><circle cx="307.3" cy="112.6" r="0.95"/><circle cx="296.7" cy="113.3" r="0.95"/><circle cx="292.3" cy="100.2" r="0.95"/><circle cx="297.2" cy="112.0" r="0.95"/><circle cx="320.8" cy="119.7" r="0.95"/><circle cx="296.2" cy="111.7" r="0.95"/><circle cx="300.1" cy="110.4" r="0.95"/><circle cx="293.4" cy="104.1" r="0.95"/><circle cx="294.4" cy="113.0" r="0.95"/><circle cx="297.7" cy="114.2" r="0.95"/><circle cx="297.2" cy="103.9" r="0.95"/><circle cx="294.8" cy="97.5" r="0.95"/><circle cx="295.5" cy="117.3" r="0.95"/><circle cx="298.6" cy="113.0" r="0.95"/><circle cx="293.7" cy="102.9" r="0.95"/><circle cx="301.3" cy="105.8" r="0.95"/><circle cx="295.0" cy="108.2" r="0.95"/><circle cx="313.9" cy="117.1" r="0.95"/><circle cx="310.3" cy="106.5" r="0.95"/><circle cx="299.4" cy="106.6" r="0.95"/><circle cx="308.2" cy="111.5" r="0.95"/><circle cx="297.5" cy="116.4" r="0.95"/><circle cx="298.5" cy="107.7" r="0.95"/><circle cx="301.3" cy="106.5" r="0.95"/><circle cx="300.9" cy="115.6" r="0.95"/><circle cx="303.0" cy="118.4" r="0.95"/><circle cx="307.2" cy="107.1" r="0.95"/><circle cx="299.9" cy="116.3" r="0.95"/><circle cx="306.6" cy="114.3" r="0.95"/><circle cx="293.6" cy="106.4" r="0.95"/><circle cx="292.9" cy="116.7" r="0.95"/><circle cx="297.6" cy="109.6" r="0.95"/><circle cx="292.3" cy="108.5" r="0.95"/><circle cx="297.5" cy="111.2" r="0.95"/><circle cx="295.0" cy="114.8" r="0.95"/><circle cx="296.9" cy="107.4" r="0.95"/><circle cx="299.0" cy="112.5" r="0.95"/><circle cx="294.0" cy="96.8" r="0.95"/><circle cx="302.3" cy="114.0" r="0.95"/><circle cx="303.0" cy="118.6" r="0.95"/><circle cx="295.8" cy="112.6" r="0.95"/><circle cx="294.0" cy="114.6" r="0.95"/><circle cx="292.9" cy="92.6" r="0.95"/><circle cx="293.4" cy="87.4" r="0.95"/><circle cx="292.4" cy="101.7" r="0.95"/><circle cx="293.7" cy="117.7" r="0.95"/><circle cx="295.7" cy="108.2" r="0.95"/><circle cx="296.8" cy="105.7" r="0.95"/><circle cx="302.1" cy="111.3" r="0.95"/><circle cx="321.0" cy="118.7" r="0.95"/><circle cx="309.2" cy="109.3" r="0.95"/><circle cx="305.7" cy="116.3" r="0.95"/><circle cx="292.9" cy="99.5" r="0.95"/><circle cx="295.3" cy="108.3" r="0.95"/><circle cx="294.3" cy="104.6" r="0.95"/><circle cx="302.7" cy="110.5" r="0.95"/><circle cx="292.6" cy="106.5" r="0.95"/><circle cx="293.6" cy="110.9" r="0.95"/><circle cx="299.4" cy="116.7" r="0.95"/><circle cx="305.5" cy="116.7" r="0.95"/><circle cx="305.0" cy="115.6" r="0.95"/><circle cx="298.9" cy="102.0" r="0.95"/><circle cx="293.5" cy="109.8" r="0.95"/><circle cx="308.1" cy="114.1" r="0.95"/><circle cx="296.3" cy="110.7" r="0.95"/><circle cx="305.7" cy="113.4" r="0.95"/><circle cx="301.8" cy="115.0" r="0.95"/><circle cx="294.7" cy="107.5" r="0.95"/><circle cx="306.2" cy="114.5" r="0.95"/><circle cx="306.7" cy="115.0" r="0.95"/><circle cx="293.1" cy="95.9" r="0.95"/><circle cx="323.2" cy="110.3" r="0.95"/><circle cx="294.4" cy="97.0" r="0.95"/><circle cx="302.3" cy="101.5" r="0.95"/><circle cx="296.2" cy="94.7" r="0.95"/><circle cx="301.9" cy="118.9" r="0.95"/><circle cx="296.6" cy="114.6" r="0.95"/><circle cx="300.6" cy="111.2" r="0.95"/><circle cx="296.5" cy="105.8" r="0.95"/><circle cx="309.6" cy="107.5" r="0.95"/><circle cx="305.2" cy="114.1" r="0.95"/><circle cx="306.8" cy="103.4" r="0.95"/><circle cx="292.8" cy="112.0" r="0.95"/><circle cx="296.2" cy="109.5" r="0.95"/><circle cx="300.7" cy="117.5" r="0.95"/><circle cx="296.4" cy="116.2" r="0.95"/><circle cx="296.3" cy="105.1" r="0.95"/><circle cx="300.0" cy="108.8" r="0.95"/><circle cx="300.0" cy="115.4" r="0.95"/><circle cx="297.3" cy="115.8" r="0.95"/><circle cx="306.9" cy="108.9" r="0.95"/><circle cx="292.1" cy="97.6" r="0.95"/><circle cx="303.9" cy="111.9" r="0.95"/><circle cx="308.6" cy="115.1" r="0.95"/><circle cx="305.2" cy="109.8" r="0.95"/><circle cx="292.9" cy="94.3" r="0.95"/><circle cx="292.7" cy="100.7" r="0.95"/><circle cx="295.0" cy="111.6" r="0.95"/><circle cx="293.6" cy="95.8" r="0.95"/><circle cx="298.3" cy="98.4" r="0.95"/><circle cx="293.3" cy="117.0" r="0.95"/><circle cx="302.0" cy="114.4" r="0.95"/><circle cx="298.8" cy="111.5" r="0.95"/><circle cx="301.6" cy="113.6" r="0.95"/><circle cx="312.3" cy="115.8" r="0.95"/><circle cx="302.1" cy="108.7" r="0.95"/><circle cx="298.4" cy="113.9" r="0.95"/><circle cx="295.6" cy="113.7" r="0.95"/><circle cx="307.6" cy="121.7" r="0.95"/><circle cx="297.9" cy="109.3" r="0.95"/><circle cx="294.2" cy="112.7" r="0.95"/><circle cx="295.5" cy="112.8" r="0.95"/><circle cx="293.7" cy="104.7" r="0.95"/><circle cx="296.1" cy="106.6" r="0.95"/><circle cx="301.9" cy="115.4" r="0.95"/><circle cx="293.1" cy="100.8" r="0.95"/><circle cx="294.2" cy="108.1" r="0.95"/><circle cx="295.3" cy="115.1" r="0.95"/><circle cx="294.5" cy="114.8" r="0.95"/><circle cx="297.6" cy="118.1" r="0.95"/><circle cx="292.3" cy="106.3" r="0.95"/><circle cx="302.8" cy="110.1" r="0.95"/><circle cx="312.3" cy="107.0" r="0.95"/><circle cx="304.3" cy="104.7" r="0.95"/><circle cx="292.7" cy="94.0" r="0.95"/><circle cx="293.9" cy="108.0" r="0.95"/><circle cx="296.2" cy="111.3" r="0.95"/><circle cx="303.4" cy="116.0" r="0.95"/><circle cx="314.4" cy="102.6" r="0.95"/><circle cx="299.8" cy="105.1" r="0.95"/><circle cx="293.1" cy="109.0" r="0.95"/><circle cx="292.6" cy="109.5" r="0.95"/><circle cx="300.7" cy="119.3" r="0.95"/><circle cx="320.7" cy="113.1" r="0.95"/><circle cx="293.6" cy="88.2" r="0.95"/><circle cx="296.1" cy="102.8" r="0.95"/><circle cx="300.9" cy="104.6" r="0.95"/><circle cx="301.0" cy="105.3" r="0.95"/><circle cx="313.2" cy="117.2" r="0.95"/><circle cx="300.9" cy="115.7" r="0.95"/><circle cx="294.1" cy="95.6" r="0.95"/><circle cx="294.5" cy="105.0" r="0.95"/><circle cx="293.5" cy="106.3" r="0.95"/><circle cx="301.0" cy="111.3" r="0.95"/><circle cx="305.1" cy="117.3" r="0.95"/><circle cx="298.0" cy="114.1" r="0.95"/><circle cx="302.8" cy="115.2" r="0.95"/><circle cx="297.4" cy="110.5" r="0.95"/><circle cx="296.9" cy="112.7" r="0.95"/><circle cx="294.4" cy="110.3" r="0.95"/><circle cx="295.9" cy="110.4" r="0.95"/><circle cx="311.9" cy="114.0" r="0.95"/><circle cx="298.9" cy="114.4" r="0.95"/><circle cx="298.6" cy="117.1" r="0.95"/><circle cx="298.0" cy="103.6" r="0.95"/><circle cx="311.9" cy="116.0" r="0.95"/><circle cx="295.4" cy="111.4" r="0.95"/><circle cx="296.5" cy="112.1" r="0.95"/><circle cx="297.0" cy="94.2" r="0.95"/><circle cx="294.7" cy="112.0" r="0.95"/><circle cx="297.8" cy="115.9" r="0.95"/><circle cx="293.8" cy="98.4" r="0.95"/><circle cx="303.7" cy="116.6" r="0.95"/><circle cx="295.5" cy="115.7" r="0.95"/><circle cx="294.5" cy="116.3" r="0.95"/><circle cx="299.9" cy="118.6" r="0.95"/><circle cx="292.6" cy="102.2" r="0.95"/><circle cx="302.3" cy="109.1" r="0.95"/><circle cx="294.2" cy="118.0" r="0.95"/><circle cx="303.4" cy="112.3" r="0.95"/><circle cx="299.9" cy="117.6" r="0.95"/><circle cx="292.3" cy="96.8" r="0.95"/><circle cx="297.3" cy="111.4" r="0.95"/><circle cx="297.0" cy="113.1" r="0.95"/><circle cx="299.6" cy="114.8" r="0.95"/><circle cx="297.7" cy="118.8" r="0.95"/><circle cx="294.4" cy="110.5" r="0.95"/><circle cx="293.6" cy="108.5" r="0.95"/><circle cx="293.5" cy="90.7" r="0.95"/><circle cx="298.0" cy="107.0" r="0.95"/><circle cx="294.5" cy="107.4" r="0.95"/><circle cx="293.9" cy="93.9" r="0.95"/><circle cx="296.6" cy="104.7" r="0.95"/><circle cx="299.5" cy="110.1" r="0.95"/><circle cx="294.8" cy="112.6" r="0.95"/><circle cx="298.1" cy="109.7" r="0.95"/><circle cx="300.9" cy="106.9" r="0.95"/><circle cx="296.7" cy="111.8" r="0.95"/><circle cx="302.3" cy="114.7" r="0.95"/><circle cx="297.0" cy="114.2" r="0.95"/><circle cx="296.7" cy="114.5" r="0.95"/><circle cx="296.2" cy="102.5" r="0.95"/><circle cx="294.0" cy="104.6" r="0.95"/><circle cx="301.2" cy="118.2" r="0.95"/><circle cx="297.9" cy="110.0" r="0.95"/><circle cx="294.0" cy="106.7" r="0.95"/><circle cx="293.1" cy="114.4" r="0.95"/><circle cx="302.4" cy="114.8" r="0.95"/><circle cx="296.8" cy="107.2" r="0.95"/><circle cx="294.9" cy="118.6" r="0.95"/><circle cx="293.8" cy="93.9" r="0.95"/><circle cx="293.5" cy="100.6" r="0.95"/><circle cx="293.6" cy="107.7" r="0.95"/><circle cx="294.9" cy="111.2" r="0.95"/><circle cx="295.4" cy="104.8" r="0.95"/><circle cx="298.4" cy="113.5" r="0.95"/><circle cx="292.2" cy="108.4" r="0.95"/><circle cx="297.1" cy="118.0" r="0.95"/><circle cx="293.2" cy="114.8" r="0.95"/><circle cx="293.6" cy="105.4" r="0.95"/><circle cx="312.6" cy="114.1" r="0.95"/><circle cx="292.6" cy="104.0" r="0.95"/><circle cx="292.9" cy="98.2" r="0.95"/><circle cx="305.6" cy="113.7" r="0.95"/><circle cx="299.4" cy="115.5" r="0.95"/><circle cx="305.0" cy="115.9" r="0.95"/><circle cx="293.1" cy="110.2" r="0.95"/><circle cx="293.7" cy="113.7" r="0.95"/><circle cx="302.4" cy="116.9" r="0.95"/><circle cx="299.5" cy="110.9" r="0.95"/><circle cx="296.4" cy="100.6" r="0.95"/><circle cx="299.4" cy="109.3" r="0.95"/><circle cx="300.0" cy="112.6" r="0.95"/><circle cx="293.9" cy="103.4" r="0.95"/><circle cx="304.4" cy="115.3" r="0.95"/><circle cx="305.1" cy="110.3" r="0.95"/><circle cx="298.9" cy="111.5" r="0.95"/><circle cx="296.8" cy="112.0" r="0.95"/><circle cx="292.6" cy="104.3" r="0.95"/><circle cx="299.8" cy="115.2" r="0.95"/><circle cx="296.9" cy="114.6" r="0.95"/><circle cx="293.1" cy="112.8" r="0.95"/><circle cx="300.4" cy="112.1" r="0.95"/><circle cx="299.8" cy="120.5" r="0.95"/><circle cx="300.9" cy="108.7" r="0.95"/><circle cx="294.8" cy="31.1" r="0.95"/><circle cx="293.6" cy="73.1" r="0.95"/><circle cx="296.5" cy="74.3" r="0.95"/><circle cx="314.8" cy="75.5" r="0.95"/><circle cx="373.8" cy="108.8" r="0.95"/></g>
<g fill="#606060" fill-opacity="0.42"><circle cx="428.0" cy="119.2" r="0.95"/><circle cx="424.4" cy="113.1" r="0.95"/><circle cx="423.0" cy="106.4" r="0.95"/><circle cx="480.6" cy="115.1" r="0.95"/><circle cx="427.5" cy="117.1" r="0.95"/><circle cx="422.6" cy="104.0" r="0.95"/><circle cx="433.6" cy="112.8" r="0.95"/><circle cx="462.6" cy="114.2" r="0.95"/><circle cx="434.1" cy="113.0" r="0.95"/><circle cx="430.1" cy="113.3" r="0.95"/><circle cx="423.8" cy="110.6" r="0.95"/><circle cx="436.1" cy="111.0" r="0.95"/><circle cx="429.0" cy="104.6" r="0.95"/><circle cx="435.0" cy="112.7" r="0.95"/><circle cx="444.5" cy="118.0" r="0.95"/><circle cx="424.8" cy="115.0" r="0.95"/><circle cx="442.1" cy="116.2" r="0.95"/><circle cx="444.9" cy="117.8" r="0.95"/><circle cx="423.8" cy="109.9" r="0.95"/><circle cx="434.9" cy="113.5" r="0.95"/><circle cx="489.1" cy="116.7" r="0.95"/><circle cx="427.0" cy="109.4" r="0.95"/><circle cx="433.2" cy="109.4" r="0.95"/><circle cx="433.8" cy="112.4" r="0.95"/><circle cx="424.0" cy="115.4" r="0.95"/><circle cx="426.0" cy="117.2" r="0.95"/><circle cx="425.6" cy="107.1" r="0.95"/><circle cx="434.0" cy="113.9" r="0.95"/><circle cx="445.5" cy="113.4" r="0.95"/><circle cx="425.1" cy="114.2" r="0.95"/><circle cx="430.7" cy="109.1" r="0.95"/><circle cx="429.9" cy="116.9" r="0.95"/><circle cx="426.3" cy="115.7" r="0.95"/><circle cx="422.2" cy="104.9" r="0.95"/><circle cx="458.7" cy="115.9" r="0.95"/><circle cx="435.3" cy="115.4" r="0.95"/><circle cx="422.4" cy="100.5" r="0.95"/><circle cx="431.5" cy="117.1" r="0.95"/><circle cx="424.7" cy="112.7" r="0.95"/><circle cx="425.5" cy="116.2" r="0.95"/><circle cx="423.2" cy="105.9" r="0.95"/><circle cx="433.2" cy="114.9" r="0.95"/><circle cx="426.6" cy="114.0" r="0.95"/><circle cx="422.7" cy="102.9" r="0.95"/><circle cx="457.4" cy="117.6" r="0.95"/><circle cx="464.2" cy="120.2" r="0.95"/><circle cx="436.6" cy="116.8" r="0.95"/><circle cx="438.4" cy="113.7" r="0.95"/><circle cx="426.0" cy="114.5" r="0.95"/><circle cx="423.8" cy="111.1" r="0.95"/><circle cx="423.1" cy="113.8" r="0.95"/><circle cx="425.9" cy="107.9" r="0.95"/><circle cx="454.3" cy="118.5" r="0.95"/><circle cx="426.5" cy="116.2" r="0.95"/><circle cx="426.1" cy="116.0" r="0.95"/><circle cx="441.8" cy="119.6" r="0.95"/><circle cx="421.8" cy="101.2" r="0.95"/><circle cx="454.9" cy="112.8" r="0.95"/><circle cx="428.9" cy="101.8" r="0.95"/><circle cx="425.0" cy="114.3" r="0.95"/><circle cx="423.7" cy="110.4" r="0.95"/><circle cx="435.2" cy="109.7" r="0.95"/><circle cx="423.9" cy="118.0" r="0.95"/><circle cx="441.7" cy="112.1" r="0.95"/><circle cx="448.7" cy="118.3" r="0.95"/><circle cx="442.3" cy="114.8" r="0.95"/><circle cx="424.3" cy="107.3" r="0.95"/><circle cx="423.6" cy="114.5" r="0.95"/><circle cx="424.6" cy="111.9" r="0.95"/><circle cx="458.5" cy="114.7" r="0.95"/><circle cx="421.3" cy="106.7" r="0.95"/><circle cx="434.7" cy="117.0" r="0.95"/><circle cx="426.4" cy="113.9" r="0.95"/><circle cx="430.0" cy="119.8" r="0.95"/><circle cx="433.2" cy="115.3" r="0.95"/><circle cx="426.9" cy="104.3" r="0.95"/><circle cx="458.5" cy="111.6" r="0.95"/><circle cx="458.5" cy="108.1" r="0.95"/><circle cx="427.9" cy="110.4" r="0.95"/><circle cx="431.1" cy="110.5" r="0.95"/><circle cx="464.3" cy="114.5" r="0.95"/><circle cx="432.2" cy="113.4" r="0.95"/><circle cx="430.1" cy="109.3" r="0.95"/><circle cx="449.3" cy="116.2" r="0.95"/><circle cx="421.9" cy="107.6" r="0.95"/><circle cx="434.4" cy="114.1" r="0.95"/><circle cx="442.1" cy="113.9" r="0.95"/><circle cx="428.9" cy="117.8" r="0.95"/><circle cx="427.9" cy="106.2" r="0.95"/><circle cx="455.4" cy="117.2" r="0.95"/><circle cx="422.7" cy="73.9" r="0.95"/><circle cx="422.7" cy="77.0" r="0.95"/><circle cx="422.7" cy="80.2" r="0.95"/><circle cx="433.7" cy="76.6" r="0.95"/><circle cx="425.1" cy="85.7" r="0.95"/><circle cx="423.5" cy="89.6" r="0.95"/><circle cx="429.8" cy="90.4" r="0.95"/><circle cx="424.3" cy="93.5" r="0.95"/><circle cx="425.8" cy="95.9" r="0.95"/><circle cx="430.5" cy="95.9" r="0.95"/><circle cx="444.6" cy="91.9" r="0.95"/><circle cx="436.8" cy="97.4" r="0.95"/><circle cx="440.0" cy="97.4" r="0.95"/><circle cx="443.1" cy="97.0" r="0.95"/><circle cx="446.2" cy="97.9" r="0.95"/><circle cx="433.7" cy="99.8" r="0.95"/><circle cx="427.4" cy="100.6" r="0.95"/><circle cx="438.4" cy="102.9" r="0.95"/><circle cx="447.0" cy="102.1" r="0.95"/><circle cx="425.1" cy="103.7" r="0.95"/><circle cx="427.4" cy="107.6" r="0.95"/><circle cx="432.1" cy="106.1" r="0.95"/><circle cx="436.8" cy="107.6" r="0.95"/><circle cx="440.7" cy="106.8" r="0.95"/><circle cx="429.8" cy="110.0" r="0.95"/><circle cx="433.7" cy="110.8" r="0.95"/><circle cx="440.0" cy="110.0" r="0.95"/><circle cx="424.3" cy="112.3" r="0.95"/><circle cx="430.5" cy="114.7" r="0.95"/><circle cx="434.5" cy="115.5" r="0.95"/><circle cx="438.4" cy="113.9" r="0.95"/><circle cx="447.8" cy="115.5" r="0.95"/><circle cx="452.5" cy="113.1" r="0.95"/><circle cx="428.2" cy="117.0" r="0.95"/><circle cx="443.1" cy="117.0" r="0.95"/><circle cx="426.9" cy="48.0" r="0.95"/><circle cx="426.0" cy="59.0" r="0.95"/><circle cx="423.8" cy="65.8" r="0.95"/><circle cx="433.6" cy="76.5" r="0.95"/><circle cx="422.6" cy="74.8" r="0.95"/><circle cx="422.6" cy="78.5" r="0.95"/><circle cx="475.2" cy="112.6" r="0.95"/><circle cx="476.2" cy="123.0" r="0.95"/><circle cx="492.1" cy="118.6" r="0.95"/><circle cx="504.3" cy="114.5" r="0.95"/><circle cx="503.4" cy="121.1" r="0.95"/></g>
<path d="M33.30,106.30 C33.75,106.83 35.02,108.35 36.00,109.50 C36.98,110.65 37.13,112.47 39.20,113.20 C41.27,113.93 45.17,113.55 48.40,113.90 C51.63,114.25 55.20,115.03 58.60,115.30 C62.00,115.57 65.90,115.30 68.80,115.50 C71.70,115.70 74.05,115.85 76.00,116.50 C77.95,117.15 78.80,119.50 80.50,119.40 C82.20,119.30 84.23,116.82 86.20,115.90 C88.17,114.98 90.43,114.40 92.30,113.90 C94.17,113.40 96.20,113.00 97.40,112.90 C98.60,112.80 98.30,113.82 99.50,113.30 C100.70,112.78 102.73,110.72 104.60,109.80 C106.47,108.88 108.73,108.38 110.70,107.80 C112.67,107.22 115.45,106.55 116.40,106.30" fill="none" stroke="#d3422f" stroke-width="1.6" stroke-linejoin="round" stroke-linecap="round"/>
<path d="M291.70,104.80 C292.48,105.72 294.57,108.90 296.40,110.30 C298.23,111.70 300.33,112.53 302.70,113.20 C305.07,113.87 308.50,114.20 310.60,114.30 C312.70,114.40 313.57,114.27 315.30,113.80 C317.03,113.33 319.12,111.85 321.00,111.50 C322.88,111.15 325.03,111.15 326.60,111.70 C328.17,112.25 329.30,113.90 330.40,114.80 C331.50,115.70 331.95,116.83 333.20,117.10 C334.45,117.37 335.88,116.78 337.90,116.40 C339.92,116.02 342.18,115.28 345.30,114.80 C348.42,114.32 353.78,114.12 356.60,113.50 C359.42,112.88 360.17,111.93 362.20,111.10 C364.23,110.27 367.70,108.93 368.80,108.50" fill="none" stroke="#d3422f" stroke-width="1.6" stroke-linejoin="round" stroke-linecap="round"/>
<path d="M420.90,105.40 C421.73,106.23 424.37,109.17 425.90,110.40 C427.43,111.63 428.45,112.27 430.10,112.80 C431.75,113.33 433.92,113.42 435.80,113.60 C437.68,113.78 439.52,114.03 441.40,113.90 C443.28,113.77 445.45,113.22 447.10,112.80 C448.75,112.38 449.90,111.57 451.30,111.40 C452.70,111.23 454.08,111.15 455.50,111.80 C456.92,112.45 458.38,114.40 459.80,115.30 C461.22,116.20 461.58,117.28 464.00,117.20 C466.42,117.12 470.70,115.42 474.30,114.80 C477.90,114.18 482.78,114.12 485.60,113.50 C488.42,112.88 489.17,111.88 491.20,111.10 C493.23,110.32 496.70,109.18 497.80,108.80" fill="none" stroke="#d3422f" stroke-width="1.6" stroke-linejoin="round" stroke-linecap="round"/>
<path d="M163.60,107.50 C164.13,108.65 165.65,113.03 166.80,114.40 C167.95,115.77 168.83,115.33 170.50,115.70 C172.17,116.07 173.67,116.45 176.80,116.60 C179.93,116.75 185.77,116.83 189.30,116.60 C192.83,116.37 196.55,115.43 198.00,115.20 L201.20,114.20 L205.60,116.50 L208.80,119.60 L215.40,114.20 L222.30,119.80 L228.00,113.80 L234.20,117.60 L239.80,117.60 L245.50,112.30" fill="none" stroke="#d3422f" stroke-width="1.6" stroke-linejoin="round" stroke-linecap="round"/>
<path d="M36.80,222.60 L37.04,223.62 L37.35,224.95 L37.71,226.53 L38.12,228.30 L38.57,230.20 L39.04,232.15 L39.52,234.11 L40.00,236.00 L40.49,237.92 L40.99,239.97 L41.51,242.09 L42.06,244.24 L42.62,246.35 L43.19,248.39 L43.79,250.29 L44.40,252.00 L45.04,253.55 L45.72,255.00 L46.43,256.35 L47.15,257.60 L47.87,258.75 L48.58,259.80 L49.26,260.75 L49.90,261.60 L50.50,262.34 L51.08,262.96 L51.63,263.48 L52.17,263.90 L52.70,264.23 L53.23,264.49 L53.76,264.67 L54.30,264.80 L54.85,264.83 L55.39,264.75 L55.93,264.57 L56.47,264.33 L57.01,264.04 L57.56,263.74 L58.13,263.45 L58.70,263.20 L59.29,262.95 L59.89,262.67 L60.50,262.37 L61.11,262.07 L61.73,261.79 L62.36,261.54 L62.98,261.34 L63.60,261.20 L64.22,261.12 L64.85,261.08 L65.47,261.07 L66.10,261.11 L66.73,261.18 L67.35,261.28 L67.98,261.42 L68.60,261.60 L69.20,261.82 L69.76,262.10 L70.32,262.43 L70.87,262.78 L71.45,263.16 L72.07,263.54 L72.75,263.93 L73.50,264.30 L74.32,264.68 L75.21,265.07 L76.14,265.48 L77.11,265.89 L78.12,266.29 L79.16,266.69 L80.22,267.06 L81.30,267.40 L82.40,267.74 L83.52,268.08 L84.68,268.42 L85.86,268.74 L87.06,269.03 L88.29,269.26 L89.53,269.42 L90.80,269.50 L92.11,269.48 L93.46,269.38 L94.85,269.21 L96.26,268.99 L97.66,268.73 L99.05,268.45 L100.40,268.17 L101.70,267.90 L102.96,267.63 L104.21,267.33 L105.44,267.02 L106.64,266.69 L107.81,266.36 L108.95,266.02 L110.05,265.70 L111.10,265.40 L112.15,265.10 L113.20,264.78 L114.24,264.46 L115.24,264.14 L116.16,263.85 L116.98,263.59 L117.67,263.37 L118.20,263.20 L118.20,273.70 L117.67,273.85 L116.98,274.06 L116.16,274.31 L115.24,274.58 L114.24,274.87 L113.20,275.16 L112.15,275.44 L111.10,275.70 L110.05,275.95 L108.95,276.20 L107.81,276.45 L106.64,276.69 L105.44,276.94 L104.21,277.17 L102.96,277.39 L101.70,277.60 L100.40,277.81 L99.05,278.05 L97.66,278.28 L96.26,278.50 L94.85,278.69 L93.46,278.83 L92.11,278.90 L90.80,278.90 L89.53,278.81 L88.29,278.64 L87.06,278.41 L85.86,278.12 L84.68,277.81 L83.52,277.47 L82.40,277.13 L81.30,276.80 L80.22,276.46 L79.16,276.08 L78.12,275.68 L77.11,275.27 L76.14,274.86 L75.21,274.46 L74.32,274.07 L73.50,273.70 L72.75,273.35 L72.07,272.99 L71.45,272.64 L70.87,272.29 L70.32,271.97 L69.76,271.68 L69.20,271.42 L68.60,271.20 L67.98,271.02 L67.35,270.87 L66.73,270.75 L66.10,270.66 L65.47,270.60 L64.85,270.57 L64.22,270.57 L63.60,270.60 L62.98,270.67 L62.36,270.80 L61.73,270.96 L61.11,271.14 L60.50,271.34 L59.89,271.54 L59.29,271.73 L58.70,271.90 L58.12,272.07 L57.54,272.26 L56.97,272.46 L56.40,272.66 L55.85,272.82 L55.31,272.95 L54.79,273.01 L54.30,273.00 L53.84,272.92 L53.42,272.80 L53.03,272.63 L52.65,272.41 L52.27,272.14 L51.88,271.81 L51.46,271.43 L51.00,271.00 L50.50,270.51 L49.98,269.96 L49.43,269.36 L48.87,268.71 L48.30,268.01 L47.73,267.25 L47.16,266.45 L46.60,265.60 L46.03,264.66 L45.45,263.61 L44.85,262.50 L44.26,261.34 L43.69,260.18 L43.15,259.04 L42.64,257.97 L42.20,257.00 L41.83,256.15 L41.52,255.40 L41.26,254.72 L41.03,254.06 L40.80,253.40 L40.57,252.69 L40.31,251.90 L40.00,251.00 L39.63,249.91 L39.20,248.63 L38.73,247.24 L38.26,245.83 L37.81,244.46 L37.40,243.21 L37.05,242.17 L36.80,241.40 Z" fill="#f5c0bc" fill-opacity="0.9" stroke="none"/>
<path d="M36.80,222.60 C37.33,224.83 38.73,231.10 40.00,236.00 C41.27,240.90 42.75,247.73 44.40,252.00 C46.05,256.27 48.25,259.47 49.90,261.60 C51.55,263.73 52.83,264.53 54.30,264.80 C55.77,265.07 57.15,263.80 58.70,263.20 C60.25,262.60 61.95,261.47 63.60,261.20 C65.25,260.93 66.95,261.08 68.60,261.60 C70.25,262.12 71.38,263.33 73.50,264.30 C75.62,265.27 78.42,266.53 81.30,267.40 C84.18,268.27 87.40,269.42 90.80,269.50 C94.20,269.58 98.32,268.58 101.70,267.90 C105.08,267.22 108.35,266.18 111.10,265.40 C113.85,264.62 117.02,263.57 118.20,263.20" fill="none" stroke="#e27878" stroke-width="0.8"/>
<path d="M36.80,241.40 C37.33,243.00 39.10,248.40 40.00,251.00 C40.90,253.60 41.10,254.57 42.20,257.00 C43.30,259.43 45.13,263.27 46.60,265.60 C48.07,267.93 49.72,269.77 51.00,271.00 C52.28,272.23 53.02,272.85 54.30,273.00 C55.58,273.15 57.15,272.30 58.70,271.90 C60.25,271.50 61.95,270.72 63.60,270.60 C65.25,270.48 66.95,270.68 68.60,271.20 C70.25,271.72 71.38,272.77 73.50,273.70 C75.62,274.63 78.42,275.93 81.30,276.80 C84.18,277.67 87.40,278.77 90.80,278.90 C94.20,279.03 98.32,278.13 101.70,277.60 C105.08,277.07 108.35,276.35 111.10,275.70 C113.85,275.05 117.02,274.03 118.20,273.70" fill="none" stroke="#e27878" stroke-width="0.8"/>
<path d="M36.80,232.60 C37.33,234.67 38.73,240.68 40.00,245.00 C41.27,249.32 42.75,255.07 44.40,258.50 C46.05,261.93 48.35,263.95 49.90,265.60 C51.45,267.25 52.23,268.10 53.70,268.40 C55.17,268.70 57.05,267.82 58.70,267.40 C60.35,266.98 61.95,266.03 63.60,265.90 C65.25,265.77 66.95,266.08 68.60,266.60 C70.25,267.12 71.38,268.08 73.50,269.00 C75.62,269.92 78.42,271.32 81.30,272.10 C84.18,272.88 87.40,273.62 90.80,273.70 C94.20,273.78 98.32,273.12 101.70,272.60 C105.08,272.08 108.35,271.20 111.10,270.60 C113.85,270.00 117.02,269.27 118.20,269.00" fill="none" stroke="#c43e48" stroke-width="0.9"/>
<line x1="54.3" y1="182.0" x2="54.3" y2="287.0" stroke="#9a2842" stroke-width="1.0" stroke-dasharray="5.3,5.8"/>
<path d="M165.80,238.10 L166.12,239.20 L166.54,240.69 L167.03,242.47 L167.59,244.42 L168.18,246.46 L168.80,248.47 L169.41,250.35 L170.00,252.00 L170.58,253.46 L171.18,254.86 L171.79,256.20 L172.42,257.48 L173.05,258.70 L173.70,259.86 L174.35,260.96 L175.00,262.00 L175.67,263.01 L176.36,264.00 L177.07,264.95 L177.78,265.83 L178.49,266.62 L179.18,267.29 L179.86,267.83 L180.50,268.20 L181.10,268.37 L181.67,268.33 L182.21,268.14 L182.74,267.84 L183.28,267.48 L183.82,267.11 L184.39,266.77 L185.00,266.50 L185.60,266.25 L186.16,265.94 L186.72,265.62 L187.31,265.30 L187.95,265.03 L188.70,264.83 L189.57,264.74 L190.60,264.80 L191.82,265.04 L193.22,265.44 L194.75,265.96 L196.37,266.55 L198.04,267.17 L199.73,267.76 L201.40,268.29 L203.00,268.70 L204.54,269.01 L206.05,269.27 L207.54,269.49 L209.05,269.67 L210.58,269.82 L212.15,269.96 L213.79,270.08 L215.50,270.20 L217.30,270.31 L219.17,270.40 L221.09,270.47 L223.06,270.53 L225.06,270.57 L227.08,270.60 L229.10,270.61 L231.10,270.60 L233.22,270.57 L235.51,270.51 L237.88,270.42 L240.22,270.33 L242.45,270.23 L244.45,270.13 L246.14,270.05 L247.40,270.00 L247.40,277.30 L246.14,277.27 L244.45,277.22 L242.45,277.18 L240.22,277.12 L237.88,277.05 L235.51,276.98 L233.22,276.89 L231.10,276.80 L229.10,276.70 L227.08,276.60 L225.06,276.48 L223.06,276.36 L221.09,276.23 L219.17,276.07 L217.30,275.90 L215.50,275.70 L213.79,275.48 L212.15,275.25 L210.58,275.00 L209.05,274.72 L207.54,274.43 L206.05,274.12 L204.54,273.77 L203.00,273.40 L201.40,272.95 L199.73,272.42 L198.04,271.83 L196.37,271.23 L194.75,270.66 L193.22,270.15 L191.82,269.75 L190.60,269.50 L189.57,269.40 L188.70,269.43 L187.95,269.56 L187.31,269.76 L186.72,270.00 L186.16,270.26 L185.60,270.50 L185.00,270.70 L184.39,270.92 L183.82,271.21 L183.28,271.53 L182.74,271.84 L182.21,272.10 L181.67,272.28 L181.10,272.32 L180.50,272.20 L179.86,271.92 L179.18,271.53 L178.49,271.03 L177.78,270.43 L177.07,269.74 L176.36,268.97 L175.67,268.12 L175.00,267.20 L174.35,266.20 L173.70,265.11 L173.05,263.94 L172.42,262.69 L171.79,261.36 L171.18,259.97 L170.58,258.51 L170.00,257.00 L169.41,255.30 L168.80,253.36 L168.18,251.27 L167.59,249.16 L167.03,247.13 L166.54,245.29 L166.12,243.74 L165.80,242.60 Z" fill="#f5c0bc" fill-opacity="0.9" stroke="none"/>
<path d="M165.80,238.10 C166.50,240.42 168.47,248.02 170.00,252.00 C171.53,255.98 173.25,259.30 175.00,262.00 C176.75,264.70 178.83,267.45 180.50,268.20 C182.17,268.95 183.32,267.07 185.00,266.50 C186.68,265.93 187.60,264.43 190.60,264.80 C193.60,265.17 198.85,267.80 203.00,268.70 C207.15,269.60 210.82,269.88 215.50,270.20 C220.18,270.52 225.78,270.63 231.10,270.60 C236.42,270.57 244.68,270.10 247.40,270.00" fill="none" stroke="#e27878" stroke-width="0.8"/>
<path d="M165.80,242.60 C166.50,245.00 168.47,252.90 170.00,257.00 C171.53,261.10 173.25,264.67 175.00,267.20 C176.75,269.73 178.83,271.62 180.50,272.20 C182.17,272.78 183.32,271.15 185.00,270.70 C186.68,270.25 187.60,269.05 190.60,269.50 C193.60,269.95 198.85,272.37 203.00,273.40 C207.15,274.43 210.82,275.13 215.50,275.70 C220.18,276.27 225.78,276.53 231.10,276.80 C236.42,277.07 244.68,277.22 247.40,277.30" fill="none" stroke="#e27878" stroke-width="0.8"/>
<path d="M165.80,240.40 C166.50,242.75 168.47,250.43 170.00,254.50 C171.53,258.57 173.25,262.18 175.00,264.80 C176.75,267.42 178.83,269.58 180.50,270.20 C182.17,270.82 183.32,269.02 185.00,268.50 C186.68,267.98 187.60,266.68 190.60,267.10 C193.60,267.52 198.85,270.02 203.00,271.00 C207.15,271.98 210.82,272.55 215.50,273.00 C220.18,273.45 225.78,273.63 231.10,273.70 C236.42,273.77 244.68,273.45 247.40,273.40" fill="none" stroke="#c43e48" stroke-width="0.9"/>
<line x1="180.5" y1="182.0" x2="180.5" y2="287.0" stroke="#8c2a48" stroke-width="1.0" stroke-dasharray="5.3,5.8"/>
<path d="M295.50,227.60 L295.63,228.17 L295.81,228.92 L296.01,229.81 L296.24,230.80 L296.49,231.86 L296.76,232.96 L297.03,234.05 L297.30,235.10 L297.58,236.15 L297.88,237.24 L298.19,238.36 L298.51,239.49 L298.83,240.63 L299.16,241.75 L299.48,242.85 L299.80,243.90 L300.11,244.93 L300.43,245.95 L300.74,246.95 L301.05,247.94 L301.36,248.89 L301.68,249.81 L301.99,250.68 L302.30,251.50 L302.60,252.27 L302.89,252.99 L303.18,253.68 L303.47,254.32 L303.77,254.92 L304.08,255.49 L304.43,256.01 L304.80,256.50 L305.22,256.95 L305.69,257.35 L306.19,257.71 L306.70,258.03 L307.21,258.32 L307.71,258.57 L308.18,258.80 L308.60,259.00 L308.94,259.17 L309.20,259.30 L309.41,259.40 L309.61,259.46 L309.85,259.50 L310.15,259.52 L310.55,259.52 L311.10,259.50 L311.79,259.46 L312.59,259.41 L313.47,259.33 L314.43,259.23 L315.45,259.11 L316.51,258.96 L317.60,258.79 L318.70,258.60 L319.81,258.38 L320.94,258.13 L322.10,257.85 L323.31,257.55 L324.56,257.23 L325.87,256.90 L327.25,256.55 L328.70,256.20 L330.11,255.85 L331.43,255.51 L332.75,255.16 L334.16,254.80 L335.76,254.40 L337.63,253.96 L339.88,253.47 L342.60,252.90 L346.10,252.20 L350.44,251.37 L355.30,250.45 L360.37,249.49 L365.33,248.57 L369.86,247.72 L373.66,247.01 L376.40,246.50 L376.40,274.70 L373.69,274.26 L369.98,273.66 L365.55,272.93 L360.68,272.14 L355.67,271.34 L350.79,270.56 L346.34,269.86 L342.60,269.30 L339.48,268.86 L336.68,268.48 L334.14,268.16 L331.82,267.89 L329.67,267.65 L327.63,267.43 L325.66,267.21 L323.70,267.00 L321.76,266.80 L319.90,266.62 L318.12,266.46 L316.45,266.32 L314.90,266.19 L313.48,266.06 L312.21,265.93 L311.10,265.80 L310.21,265.68 L309.54,265.59 L309.04,265.51 L308.67,265.43 L308.37,265.33 L308.09,265.21 L307.78,265.03 L307.40,264.80 L306.97,264.53 L306.54,264.24 L306.12,263.92 L305.71,263.56 L305.30,263.15 L304.89,262.67 L304.50,262.13 L304.10,261.50 L303.71,260.77 L303.32,259.95 L302.93,259.05 L302.55,258.09 L302.18,257.09 L301.81,256.06 L301.45,255.03 L301.10,254.00 L300.77,252.98 L300.45,251.94 L300.15,250.88 L299.86,249.80 L299.56,248.70 L299.26,247.56 L298.94,246.40 L298.60,245.20 L298.22,243.88 L297.79,242.41 L297.35,240.86 L296.89,239.30 L296.46,237.81 L296.07,236.47 L295.74,235.34 L295.50,234.50 Z" fill="#f5c0bc" fill-opacity="0.9" stroke="none"/>
<path d="M295.50,227.60 C295.80,228.85 296.58,232.38 297.30,235.10 C298.02,237.82 298.97,241.17 299.80,243.90 C300.63,246.63 301.47,249.40 302.30,251.50 C303.13,253.60 303.75,255.25 304.80,256.50 C305.85,257.75 307.55,258.50 308.60,259.00 C309.65,259.50 309.42,259.57 311.10,259.50 C312.78,259.43 315.77,259.15 318.70,258.60 C321.63,258.05 324.72,257.15 328.70,256.20 C332.68,255.25 334.65,254.52 342.60,252.90 C350.55,251.28 370.77,247.57 376.40,246.50" fill="none" stroke="#e48c8a" stroke-width="0.6"/>
<path d="M295.50,234.50 C296.02,236.28 297.67,241.95 298.60,245.20 C299.53,248.45 300.18,251.28 301.10,254.00 C302.02,256.72 303.05,259.70 304.10,261.50 C305.15,263.30 306.23,264.08 307.40,264.80 C308.57,265.52 308.38,265.43 311.10,265.80 C313.82,266.17 318.45,266.42 323.70,267.00 C328.95,267.58 333.82,268.02 342.60,269.30 C351.38,270.58 370.77,273.80 376.40,274.70" fill="none" stroke="#e48c8a" stroke-width="0.6"/>
<path d="M295.50,231.50 C296.02,233.15 297.67,238.28 298.60,241.40 C299.53,244.52 300.27,247.68 301.10,250.20 C301.93,252.72 302.55,254.82 303.60,256.50 C304.65,258.18 306.15,259.47 307.40,260.30 C308.65,261.13 308.38,261.32 311.10,261.50 C313.82,261.68 318.45,261.52 323.70,261.40 C328.95,261.28 333.82,261.02 342.60,260.80 C351.38,260.58 370.77,260.22 376.40,260.10" fill="none" stroke="#c43e48" stroke-width="0.9"/>
<line x1="310.8" y1="182.0" x2="310.8" y2="287.0" stroke="#c85a7a" stroke-width="1.8" stroke-dasharray="5.3,5.8"/>
<line x1="437.5" y1="182.0" x2="437.5" y2="287.0" stroke="#7c2a48" stroke-width="1.0" stroke-dasharray="5.3,5.8"/>
<path d="M424.80,197.00 L424.93,198.16 L425.10,199.72 L425.30,201.57 L425.53,203.62 L425.77,205.79 L426.01,207.97 L426.26,210.07 L426.50,212.00 L426.73,213.80 L426.97,215.57 L427.21,217.32 L427.45,219.06 L427.70,220.79 L427.96,222.52 L428.22,224.26 L428.50,226.00 L428.79,227.78 L429.10,229.59 L429.41,231.43 L429.74,233.25 L430.06,235.04 L430.38,236.78 L430.70,238.44 L431.00,240.00 L431.29,241.47 L431.57,242.88 L431.84,244.22 L432.11,245.50 L432.38,246.72 L432.65,247.88 L432.92,248.97 L433.20,250.00 L433.48,250.97 L433.77,251.88 L434.06,252.74 L434.36,253.53 L434.65,254.25 L434.94,254.90 L435.22,255.49 L435.50,256.00 L435.77,256.44 L436.04,256.80 L436.31,257.08 L436.58,257.31 L436.84,257.46 L437.09,257.56 L437.35,257.61 L437.60,257.60 L437.85,257.55 L438.09,257.45 L438.32,257.30 L438.56,257.09 L438.79,256.81 L439.02,256.46 L439.26,256.02 L439.50,255.50 L439.75,254.86 L440.00,254.08 L440.26,253.21 L440.52,252.28 L440.78,251.30 L441.03,250.33 L441.27,249.38 L441.50,248.50 L441.71,247.63 L441.91,246.73 L442.11,245.81 L442.29,244.92 L442.47,244.06 L442.65,243.28 L442.83,242.58 L443.00,242.00 L443.17,241.53 L443.34,241.15 L443.50,240.84 L443.66,240.61 L443.82,240.44 L443.98,240.34 L444.14,240.29 L444.30,240.30 L444.46,240.36 L444.62,240.48 L444.77,240.65 L444.93,240.89 L445.08,241.19 L445.25,241.56 L445.42,241.99 L445.60,242.50 L445.79,243.11 L446.00,243.85 L446.21,244.67 L446.43,245.54 L446.64,246.45 L446.87,247.34 L447.08,248.21 L447.30,249.00 L447.51,249.75 L447.72,250.50 L447.92,251.23 L448.13,251.95 L448.34,252.64 L448.55,253.30 L448.77,253.92 L449.00,254.50 L449.23,255.03 L449.46,255.51 L449.68,255.95 L449.92,256.36 L450.16,256.74 L450.42,257.10 L450.70,257.46 L451.00,257.80 L451.32,258.14 L451.67,258.46 L452.03,258.76 L452.40,259.04 L452.79,259.31 L453.18,259.56 L453.59,259.79 L454.00,260.00 L454.36,260.17 L454.66,260.30 L454.93,260.40 L455.22,260.48 L455.59,260.57 L456.08,260.67 L456.73,260.81 L457.60,261.00 L458.69,261.26 L459.97,261.59 L461.40,261.95 L462.95,262.33 L464.60,262.70 L466.31,263.04 L468.05,263.31 L469.80,263.50 L471.55,263.59 L473.35,263.61 L475.19,263.58 L477.09,263.51 L479.05,263.41 L481.08,263.32 L483.20,263.24 L485.40,263.20 L487.86,263.19 L490.64,263.18 L493.59,263.18 L496.57,263.18 L499.43,263.19 L502.02,263.19 L504.19,263.20 L505.80,263.20 L505.80,282.40 L504.19,281.95 L502.02,281.33 L499.43,280.60 L496.57,279.79 L493.59,278.96 L490.64,278.17 L487.86,277.47 L485.40,276.90 L483.17,276.46 L480.99,276.09 L478.88,275.78 L476.85,275.51 L474.91,275.28 L473.08,275.08 L471.37,274.89 L469.80,274.70 L468.40,274.52 L467.17,274.38 L466.08,274.26 L465.09,274.16 L464.16,274.07 L463.26,273.99 L462.35,273.90 L461.40,273.80 L460.39,273.70 L459.35,273.60 L458.31,273.51 L457.30,273.42 L456.34,273.33 L455.45,273.23 L454.66,273.12 L454.00,273.00 L453.49,272.87 L453.12,272.73 L452.85,272.59 L452.66,272.44 L452.51,272.28 L452.37,272.10 L452.21,271.91 L452.00,271.70 L451.76,271.47 L451.52,271.22 L451.28,270.95 L451.04,270.67 L450.81,270.39 L450.57,270.09 L450.34,269.80 L450.10,269.50 L449.86,269.20 L449.62,268.90 L449.39,268.58 L449.15,268.27 L448.91,267.95 L448.68,267.63 L448.44,267.31 L448.20,267.00 L447.96,266.68 L447.72,266.34 L447.48,266.00 L447.24,265.66 L447.01,265.33 L446.77,265.02 L446.53,264.74 L446.30,264.50 L446.07,264.28 L445.85,264.06 L445.63,263.86 L445.41,263.69 L445.19,263.55 L444.96,263.47 L444.73,263.45 L444.50,263.50 L444.26,263.63 L444.01,263.83 L443.76,264.09 L443.50,264.40 L443.24,264.75 L442.99,265.15 L442.74,265.56 L442.50,266.00 L442.26,266.49 L442.03,267.04 L441.81,267.65 L441.58,268.28 L441.36,268.91 L441.14,269.53 L440.92,270.10 L440.70,270.60 L440.48,271.05 L440.27,271.49 L440.06,271.90 L439.84,272.28 L439.63,272.62 L439.42,272.93 L439.21,273.19 L439.00,273.40 L438.79,273.59 L438.59,273.76 L438.39,273.90 L438.19,273.99 L437.98,274.03 L437.77,273.98 L437.54,273.85 L437.30,273.60 L437.04,273.23 L436.76,272.75 L436.48,272.18 L436.18,271.53 L435.88,270.82 L435.58,270.07 L435.29,269.29 L435.00,268.50 L434.72,267.69 L434.45,266.85 L434.17,265.97 L433.90,265.06 L433.63,264.10 L433.35,263.11 L433.08,262.07 L432.80,261.00 L432.52,259.90 L432.25,258.79 L431.98,257.65 L431.70,256.47 L431.42,255.23 L431.13,253.91 L430.82,252.51 L430.50,251.00 L430.16,249.35 L429.79,247.55 L429.41,245.64 L429.02,243.67 L428.63,241.68 L428.25,239.71 L427.87,237.80 L427.50,236.00 L427.13,234.22 L426.74,232.37 L426.35,230.51 L425.96,228.71 L425.60,227.03 L425.28,225.53 L425.01,224.26 L424.80,223.30 Z" fill="#f5c0bc" fill-opacity="0.95" stroke="none"/>
<path d="M424.80,197.00 C425.08,199.50 425.88,207.17 426.50,212.00 C427.12,216.83 427.75,221.33 428.50,226.00 C429.25,230.67 430.22,236.00 431.00,240.00 C431.78,244.00 432.45,247.33 433.20,250.00 C433.95,252.67 434.77,254.73 435.50,256.00 C436.23,257.27 436.93,257.68 437.60,257.60 C438.27,257.52 438.85,257.02 439.50,255.50 C440.15,253.98 440.92,250.75 441.50,248.50 C442.08,246.25 442.53,243.37 443.00,242.00 C443.47,240.63 443.87,240.22 444.30,240.30 C444.73,240.38 445.10,241.05 445.60,242.50 C446.10,243.95 446.73,247.00 447.30,249.00 C447.87,251.00 448.38,253.03 449.00,254.50 C449.62,255.97 450.17,256.88 451.00,257.80 C451.83,258.72 452.90,259.47 454.00,260.00 C455.10,260.53 454.97,260.42 457.60,261.00 C460.23,261.58 465.17,263.13 469.80,263.50 C474.43,263.87 479.40,263.25 485.40,263.20 C491.40,263.15 502.40,263.20 505.80,263.20" fill="none" stroke="#e27878" stroke-width="0.8"/>
<path d="M424.80,223.30 C425.25,225.42 426.55,231.38 427.50,236.00 C428.45,240.62 429.62,246.83 430.50,251.00 C431.38,255.17 432.05,258.08 432.80,261.00 C433.55,263.92 434.25,266.40 435.00,268.50 C435.75,270.60 436.63,272.78 437.30,273.60 C437.97,274.42 438.43,273.90 439.00,273.40 C439.57,272.90 440.12,271.83 440.70,270.60 C441.28,269.37 441.87,267.18 442.50,266.00 C443.13,264.82 443.87,263.75 444.50,263.50 C445.13,263.25 445.68,263.92 446.30,264.50 C446.92,265.08 447.57,266.17 448.20,267.00 C448.83,267.83 449.47,268.72 450.10,269.50 C450.73,270.28 451.35,271.12 452.00,271.70 C452.65,272.28 452.43,272.65 454.00,273.00 C455.57,273.35 458.77,273.52 461.40,273.80 C464.03,274.08 465.80,274.18 469.80,274.70 C473.80,275.22 479.40,275.62 485.40,276.90 C491.40,278.18 502.40,281.48 505.80,282.40" fill="none" stroke="#e27878" stroke-width="0.8"/>
<path d="M424.80,211.00 C425.17,213.17 426.23,219.58 427.00,224.00 C427.77,228.42 428.65,233.58 429.40,237.50 C430.15,241.42 430.82,244.33 431.50,247.50 C432.18,250.67 432.83,254.00 433.50,256.50 C434.17,259.00 434.87,261.12 435.50,262.50 C436.13,263.88 436.72,264.50 437.30,264.80 C437.88,265.10 438.43,264.77 439.00,264.30 C439.57,263.83 440.12,263.30 440.70,262.00 C441.28,260.70 441.88,258.17 442.50,256.50 C443.12,254.83 443.78,252.42 444.40,252.00 C445.02,251.58 445.57,252.97 446.20,254.00 C446.83,255.03 447.57,256.95 448.20,258.20 C448.83,259.45 449.37,260.62 450.00,261.50 C450.63,262.38 451.00,262.83 452.00,263.50 C453.00,264.17 454.43,264.97 456.00,265.50 C457.57,266.03 459.10,266.28 461.40,266.70 C463.70,267.12 465.80,267.48 469.80,268.00 C473.80,268.52 479.40,269.10 485.40,269.80 C491.40,270.50 502.40,271.80 505.80,272.20" fill="none" stroke="#c43e48" stroke-width="0.9"/>
</svg>
</body></html>
